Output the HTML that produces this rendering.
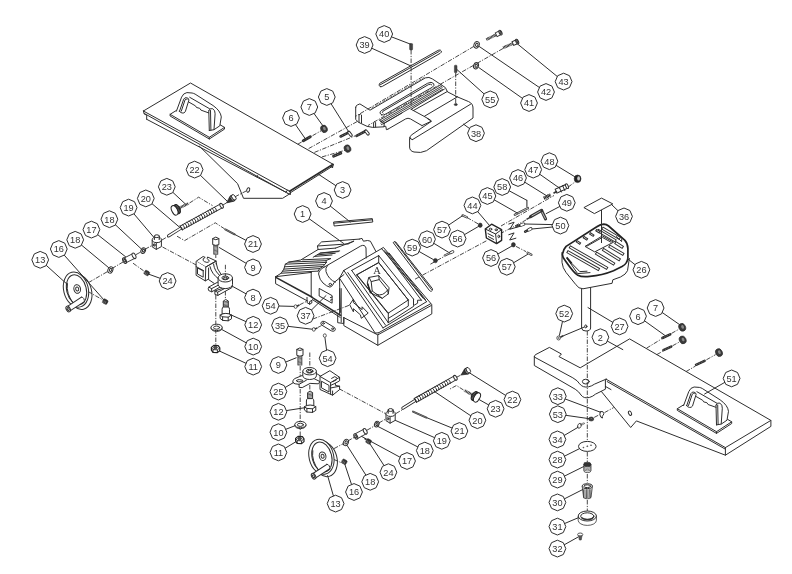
<!DOCTYPE html>
<html><head><meta charset="utf-8"><title>Exploded parts diagram</title>
<style>
html,body{margin:0;padding:0;background:#fff;}
body{width:792px;height:574px;overflow:hidden;font-family:"Liberation Sans",sans-serif;}
svg{display:block;filter:grayscale(1) blur(0.5px);}
.l{fill:none;stroke:#2e2e2e;stroke-width:1;stroke-linecap:round;stroke-linejoin:round;}
.w{fill:#fff;stroke:#2e2e2e;stroke-width:1;stroke-linejoin:round;}
.k{fill:#333;stroke:#333;stroke-width:0.6;stroke-linejoin:round;}
.b{fill:none;stroke:#2a2a2a;stroke-width:1.6;stroke-linecap:round;}
.d{fill:none;stroke:#333;stroke-width:0.9;stroke-dasharray:4.5 1.4 1.2 1.4;}
.o{fill:#fff;stroke:#2e2e2e;stroke-width:1;}
.t{font-family:"Liberation Sans",sans-serif;font-size:9.2px;fill:#333;text-anchor:middle;}
.a{font-family:"Liberation Serif",serif;font-size:10.5px;fill:#333;text-anchor:middle;}
</style></head><body>
<svg width="792" height="574" viewBox="0 0 792 574">
<rect x="0" y="0" width="792" height="574" fill="#fff"/>
<path class="l" d="M143.4,111.0 L190.5,83.0 L333.1,164.3"/>
<line class="l" x1="143.4" y1="111.0" x2="289.6" y2="191.3"/>
<line class="b" x1="289.6" y1="191.3" x2="333.1" y2="164.3"/>
<line class="l" x1="290.1" y1="192.9" x2="333.1" y2="165.9"/>
<path class="l" d="M143.4,111.0 L144.2,114.0 L146.7,115.2 L146.7,119.3"/>
<line class="l" x1="144.5" y1="113.6" x2="287.5" y2="193.2"/>
<path class="l" d="M146.7,119.3 L256.6,177.0 L257.5,175.6"/>
<path class="l" d="M256.6,177.0 L286.0,192.2 L287.5,190.0"/>
<path class="l" d="M287.5,193.2 L290.5,194.5 L290.2,191.5"/>
<path class="l" d="M331.0,166.0 L332.5,168.0 L333.1,164.5"/>
<path class="l" d="M199.2,146.0 L237.6,183.7 L243.5,198.3 L282.6,198.3 L289.8,193.8"/>
<ellipse class="l" cx="248.2" cy="190.0" rx="1.4" ry="2.3" transform="rotate(20 248.2 190.0)"/>
<g transform="translate(170.1,114.3)">
<path d="M15.6,-9.6 L0,0 L0,1.7 L39.2,24.7 L54.4,14.8 L54.4,13.1 Z" fill="#fff" stroke="none"/>
<path class="l" d="M6.2,-3.8 L0,0 L0,1.7 L39.2,24.7 L54.4,14.8 L54.4,13.1 L50.2,10.6 M0,0 L39.2,23 L54.4,13.1 M39.2,23 L39.2,24.7"/>
<path d="M6.3,-3.1 L11.5,-17.2 Q13.2,-21.2 16.8,-21.7 L22,-21.3 Q23.6,-21 25,-20.2 L42.9,-8.8 Q50.4,-3.6 51.2,2.6 L49.7,11.5 L43.9,15.4 L39.2,16.2 L38.8,-1.6 L18.8,-12.4 L15.2,-2.4 Q13.6,-0.4 11.4,-1.2 Z" fill="#fff" stroke="none"/>
<path class="l" d="M6.3,-3.1 L11.5,-17.2 Q13.2,-21.2 16.8,-21.7 L22,-21.3 Q23.6,-21 25,-20.2 L42.9,-8.8 Q50.4,-3.6 51.2,2.6 L49.7,11.5 L43.9,15.4 L39.2,16.2"/>
<path class="l" d="M9.4,-3.1 L13.6,-15.1 Q14.6,-17 16.6,-16.6 Q18.8,-16.2 18.8,-14.2 L15.2,-2.6 Q14,-0.8 12,-1.3 Q9.6,-1.8 9.4,-3.1 Z"/>
<path class="l" d="M11.2,-3.2 L15,-14.6 Q15.8,-15.6 17,-15.2"/>
<path class="l" d="M19.6,-17 L39.4,-5.6"/>
<path class="l" d="M18.8,-12.2 L25.4,-8.4 L26.4,-6.8 L29.6,-6 L30.8,-4.2 L38.6,-1.4"/>
<path class="l" d="M38.7,-3.6 Q39.6,-6.6 42.6,-5.6 Q45.2,-4 45,-0.5 L43.9,15.2"/>
<path class="l" d="M38.7,-3.6 L39.2,16.2 M40.4,-3.8 L40.8,15.8"/>
</g>
<ellipse cx="324.0" cy="128.9" rx="3.2" ry="3.8" transform="rotate(-25 324.0 128.9)" fill="#3a3a3a" stroke="#222" stroke-width="0.6"/>
<ellipse cx="324.5" cy="128.7" rx="1.3" ry="1.9" transform="rotate(-25 324.0 128.9)" fill="#8a8a8a" stroke="none"/>
<line x1="303.3" y1="140.8" x2="310.3" y2="136.8" stroke="#2a2a2a" stroke-width="2.9" stroke-linecap="round"/>
<line x1="303.3" y1="140.8" x2="310.3" y2="136.8" stroke="#aaa" stroke-width="0.7" stroke-dasharray="0.8 1.0"/>
<line x1="340.6" y1="136.5" x2="348.8" y2="132.3" stroke="#2a2a2a" stroke-width="2.6" stroke-linecap="round"/>
<line x1="340.6" y1="136.5" x2="348.8" y2="132.3" stroke="#aaa" stroke-width="0.7" stroke-dasharray="0.8 1.0"/>
<path d="M348.8,132.3 l2.3,2.9" fill="none" stroke="#2a2a2a" stroke-width="3.3" stroke-linecap="round"/>
<path d="M349.0,132.6 l2.0,2.5" fill="none" stroke="#fff" stroke-width="1.5" stroke-linecap="round"/>
<line x1="356.5" y1="135.9" x2="365.8" y2="131.0" stroke="#2a2a2a" stroke-width="2.6" stroke-linecap="round"/>
<line x1="356.5" y1="135.9" x2="365.8" y2="131.0" stroke="#aaa" stroke-width="0.7" stroke-dasharray="0.8 1.0"/>
<path d="M365.8,131.0 l2.3,2.9" fill="none" stroke="#2a2a2a" stroke-width="3.3" stroke-linecap="round"/>
<path d="M366.0,131.3 l2.0,2.5" fill="none" stroke="#fff" stroke-width="1.5" stroke-linecap="round"/>
<ellipse cx="347.5" cy="148.6" rx="3.2" ry="3.8" transform="rotate(-25 347.5 148.6)" fill="#3a3a3a" stroke="#222" stroke-width="0.6"/>
<ellipse cx="348.0" cy="148.4" rx="1.3" ry="1.9" transform="rotate(-25 347.5 148.6)" fill="#8a8a8a" stroke="none"/>
<line x1="333.6" y1="156.2" x2="340.8" y2="153.2" stroke="#2a2a2a" stroke-width="2.9" stroke-linecap="round"/>
<line x1="333.6" y1="156.2" x2="340.8" y2="153.2" stroke="#aaa" stroke-width="0.7" stroke-dasharray="0.8 1.0"/>
<line class="d" x1="297.8" y1="144.2" x2="321.0" y2="130.8"/>
<line class="d" x1="308.6" y1="148.6" x2="357.6" y2="121.3"/>
<line class="d" x1="314.4" y1="152.4" x2="355.0" y2="135.9"/>
<line class="d" x1="322.0" y1="156.9" x2="345.0" y2="150.3"/>
<path class="l" d="M355.7,107.4 Q355.7,105.6 357.3,105 L359.9,103.9 L370,110.2 L425.3,77.9 Q429,76.4 432.5,79 L445.4,87.6 L447.4,91.8 L457.4,96.9 L468.6,101.6 Q473,103.5 473,108 L473,118 L426.5,150.7 Q421,153.5 414,152 Q409.6,151 409.6,147 L409.6,139"/>
<path class="l" d="M355.7,107.4 L355.7,119.4 L358.5,122.3 L367,126.3 L372.7,127.4 L384.1,126.8 L384.1,123.4"/>
<path class="l" d="M359,122.6 L359,115 Q360.2,112.8 361.5,115 L361.5,122.8"/>
<path class="l" d="M373.6,127.2 L373.6,122.5 Q374.6,120.9 375.6,122.5 L375.6,127"/>
<path class="l" d="M384.1,126.3 L385.8,126.3 L386.4,129.7 L388,129.1"/>
<path class="l" d="M388,129.1 L405.7,118.9 Q408,117.6 410.4,118.9 L422,125.6"/>
<path class="l" d="M384.1,123.4 L402,113"/>
<path class="l" d="M422,125.6 L431.3,121.2 L427.5,118.6"/>
<path class="l" d="M409.6,139 Q409.4,136 412,134.6 L431.3,121.4"/>
<path class="l" d="M412.5,139.6 L470.6,104.2"/>
<path class="l" d="M409.8,137.5 Q410.5,139.8 412.5,139.6"/>
<path class="l" d="M457.6,96.7 L424.2,116.4 L430.3,120"/>
<path class="l" d="M411.1,109.3 L424.2,116.4"/>
<ellipse class="k" cx="455.8" cy="104.6" rx="1.6" ry="1.0"/>
<path class="l" d="M411.1,109.3 L444.4,89.1"/>
<path class="l" d="M413.3,110.6 L447.5,91.4"/>
<line x1="379.6" y1="120.2" x2="441.6" y2="84.4" stroke="#2e2e2e" stroke-width="0.9"/>
<line x1="380.1" y1="121.8" x2="442.1" y2="86.0" stroke="#2e2e2e" stroke-width="0.9"/>
<line x1="380.5" y1="123.3" x2="442.5" y2="87.5" stroke="#2e2e2e" stroke-width="0.9"/>
<line x1="381.0" y1="124.9" x2="443.0" y2="89.1" stroke="#2e2e2e" stroke-width="0.9"/>
<path class="l" d="M379.5,120.2 L384.1,123.4"/>
<path class="l" d="M381.5,114.8 Q378.5,113 381.3,110.6 L427.5,83.3 Q431.5,81.2 433.6,83.5 Q435,85.3 432.4,87.2 L386,113.9 Q383.5,115.6 381.5,114.8 Z"/>
<path class="l" d="M383,113.2 Q381.4,112.3 383,111.2 L428.3,84.7 Q430.8,83.6 431.8,84.8"/>
<line x1="371.5" y1="108.2" x2="424.5" y2="77.2" stroke="#555" stroke-width="0.8" stroke-dasharray="3 1.2"/>
<path class="l" d="M380.2,86.6 Q378,85.3 379.6,83.4 L438.2,50.3 Q440.6,49.3 441.3,51 Q441.8,52.3 440.2,53.3 L382.3,86.4 Q381,87.2 380.2,86.6 Z"/>
<path class="l" d="M380.4,84.7 L439.4,51.3"/>
<rect x="409.6" y="43.5" width="3.0" height="6.5" rx="0.8" fill="#444" stroke="#333" stroke-width="0.5"/>
<line class="d" x1="411.1" y1="50.0" x2="411.1" y2="105.0"/>
<ellipse class="w" cx="476.6" cy="44.8" rx="2.6" ry="3.4" transform="rotate(20 476.6 44.8)"/>
<ellipse class="l" cx="476.8" cy="44.8" rx="1.2" ry="1.7" transform="rotate(20 476.8 44.8)"/>
<line x1="486.3" y1="39.6" x2="495.8" y2="34.9" stroke="#2a2a2a" stroke-width="2.8" stroke-dasharray="0.9 0.45"/>
<line x1="495.8" y1="34.9" x2="500.5" y2="32.6" stroke="#2e2e2e" stroke-width="5.0" stroke-linecap="butt"/>
<line x1="496.6" y1="34.5" x2="500.5" y2="32.6" stroke="#fff" stroke-width="3.1" stroke-linecap="butt"/>
<ellipse class="w" cx="500.5" cy="32.6" rx="1.3" ry="2.5" transform="rotate(-26.241349652157787 500.5 32.6)"/>
<ellipse class="l" cx="500.6" cy="32.6" rx="0.6" ry="1.2" transform="rotate(-26.241349652157787 500.6 32.6)"/>
<line x1="503.1" y1="47.8" x2="512.4" y2="43.7" stroke="#2a2a2a" stroke-width="2.8" stroke-dasharray="0.9 0.45"/>
<line x1="512.4" y1="43.7" x2="517.2" y2="41.6" stroke="#2e2e2e" stroke-width="5.0" stroke-linecap="butt"/>
<line x1="513.3" y1="43.3" x2="517.2" y2="41.6" stroke="#fff" stroke-width="3.1" stroke-linecap="butt"/>
<ellipse class="w" cx="517.2" cy="41.6" rx="1.3" ry="2.5" transform="rotate(-23.735875339447652 517.2 41.6)"/>
<ellipse class="l" cx="517.3" cy="41.6" rx="0.6" ry="1.2" transform="rotate(-23.735875339447652 517.3 41.6)"/>
<ellipse class="w" cx="476.0" cy="65.8" rx="2.4" ry="3.2" transform="rotate(20 476.0 65.8)"/>
<ellipse class="l" cx="476.2" cy="65.8" rx="1.1" ry="1.6" transform="rotate(20 476.2 65.8)"/>
<rect x="454.4" y="65.2" width="2.6" height="7.5" rx="0.8" fill="#444" stroke="#333" stroke-width="0.5"/>
<line class="d" x1="455.7" y1="73.0" x2="455.7" y2="103.0"/>
<line class="d" x1="473.8" y1="46.4" x2="355.3" y2="116.5"/>
<line class="d" x1="503.0" y1="48.5" x2="368.0" y2="125.5"/>
<ellipse class="w" cx="79.3" cy="291.9" rx="12.3" ry="17.8" transform="rotate(-14 79.3 291.9)"/>
<ellipse class="w" cx="76.0" cy="289.6" rx="12.3" ry="17.8" transform="rotate(-14 76.0 289.6)"/>
<ellipse class="l" cx="76.5" cy="289.8" rx="9.8" ry="15.2" transform="rotate(-14 76.5 289.8)"/>
<path class="l" d="M67.4,283.6 Q65.6,293.6 74.0,304.2"/>
<ellipse class="l" cx="77.2" cy="289.0" rx="3.3" ry="4.3" transform="rotate(-14 77.2 289.0)"/>
<ellipse class="l" cx="77.2" cy="289.0" rx="1.5" ry="2.0" transform="rotate(-14 77.2 289.0)"/>
<line x1="83.2" y1="299.2" x2="68.2" y2="309.0" stroke="#2a2a2a" stroke-width="6.2" stroke-linecap="butt"/>
<line x1="84.1" y1="298.6" x2="68.2" y2="309.0" stroke="#fff" stroke-width="4.3" stroke-linecap="butt"/>
<path class="l" d="M81.6,297.0 Q84.8,297.6 84.4,301.8"/>
<ellipse class="w" cx="68.2" cy="309.0" rx="1.9" ry="3.1" transform="rotate(-30 68.2 309.0)"/>
<ellipse class="l" cx="68.2" cy="309.0" rx="0.9" ry="1.5" transform="rotate(-30 68.2 309.0)"/>
<rect x="102.7" y="299.4" width="5" height="4.4" rx="1.2" transform="rotate(28 105.2 301.6)" fill="#2e2e2e" stroke="#222" stroke-width="0.5"/>
<line x1="103.1" y1="299.8" x2="102.1" y2="302.4" stroke="#aaa" stroke-width="0.5"/>
<line x1="104.5" y1="300.5" x2="103.5" y2="303.1" stroke="#aaa" stroke-width="0.5"/>
<line x1="105.9" y1="301.2" x2="104.9" y2="303.8" stroke="#aaa" stroke-width="0.5"/>
<line class="d" x1="88.5" y1="282.6" x2="108.5" y2="271.0"/>
<line class="d" x1="88.0" y1="291.5" x2="103.0" y2="300.0"/>
<ellipse class="w" cx="110.4" cy="269.9" rx="2.4" ry="3.3" transform="rotate(25 110.4 269.9)"/>
<ellipse class="l" cx="110.6" cy="269.9" rx="1.1" ry="1.6" transform="rotate(25 110.6 269.9)"/>
<line class="d" x1="112.0" y1="268.5" x2="123.0" y2="262.0"/>
<line x1="124.6" y1="260.7" x2="134.0" y2="255.8" stroke="#333" stroke-width="6.0" stroke-linecap="butt"/>
<line x1="124.6" y1="260.7" x2="134.0" y2="255.8" stroke="#fff" stroke-width="4.3" stroke-linecap="butt"/>
<ellipse class="w" cx="134.0" cy="255.8" rx="1.6" ry="3.0" transform="rotate(-27 134.0 255.8)"/>
<ellipse class="w" cx="124.6" cy="260.7" rx="1.6" ry="3.0" transform="rotate(-27 124.6 260.7)"/>
<ellipse class="l" cx="124.6" cy="260.7" rx="0.8" ry="1.5" transform="rotate(-27 124.6 260.7)"/>
<line class="d" x1="133.0" y1="263.2" x2="145.0" y2="271.8"/>
<rect x="144.3" y="270.8" width="5" height="4.4" rx="1.2" transform="rotate(28 146.8 273.0)" fill="#2e2e2e" stroke="#222" stroke-width="0.5"/>
<line x1="144.7" y1="271.2" x2="143.7" y2="273.8" stroke="#aaa" stroke-width="0.5"/>
<line x1="146.1" y1="271.9" x2="145.1" y2="274.5" stroke="#aaa" stroke-width="0.5"/>
<line x1="147.5" y1="272.6" x2="146.5" y2="275.2" stroke="#aaa" stroke-width="0.5"/>
<line class="d" x1="136.0" y1="254.6" x2="141.5" y2="251.6"/>
<ellipse class="w" cx="143.2" cy="250.6" rx="2.2" ry="3.0" transform="rotate(25 143.2 250.6)"/>
<ellipse class="l" cx="143.4" cy="250.6" rx="1.0" ry="1.5" transform="rotate(25 143.4 250.6)"/>
<line class="d" x1="145.0" y1="249.2" x2="152.0" y2="245.5"/>
<path class="w" d="M152.2,239.9 L152.2,246.9 L156.3,249.4 L161.4,246.6 L161.4,239.6"/>
<path class="l" d="M156.3,249.4 L156.3,242.7"/>
<ellipse class="w" cx="156.8" cy="239.8" rx="4.6" ry="2.8"/>
<path class="l" d="M154.4,239.1 L154.4,236.2 M159.2,239.1 L159.2,236.2"/>
<rect x="154.4" y="236.2" width="4.8" height="3" fill="#fff" stroke="none"/>
<path class="l" d="M154.4,239.4 L154.4,236.2 M159.2,239.4 L159.2,236.2"/>
<ellipse class="w" cx="156.8" cy="236.2" rx="2.4" ry="1.4"/>
<ellipse class="l" cx="154.2" cy="245.0" rx="0.9" ry="1.3"/>
<line class="d" x1="162.0" y1="240.0" x2="168.0" y2="236.4"/>
<line x1="168.6" y1="235.8" x2="181.1" y2="228.0" stroke="#2a2a2a" stroke-width="3.2" stroke-linecap="round"/>
<line x1="168.6" y1="235.8" x2="181.1" y2="228.0" stroke="#fff" stroke-width="1.5" stroke-linecap="round"/>
<line x1="181.1" y1="228.0" x2="221.6" y2="205.8" stroke="#2a2a2a" stroke-width="5.3" stroke-linecap="butt"/>
<line x1="181.1" y1="228.0" x2="221.6" y2="205.8" stroke="#fff" stroke-width="3.5" stroke-linecap="butt"/>
<path d="M182.3,230.2 Q182.4,227.3 179.9,225.8" fill="none" stroke="#2a2a2a" stroke-width="1.0"/>
<path d="M184.6,228.9 Q184.7,226.0 182.2,224.6" fill="none" stroke="#2a2a2a" stroke-width="1.0"/>
<path d="M186.9,227.7 Q187.0,224.8 184.5,223.3" fill="none" stroke="#2a2a2a" stroke-width="1.0"/>
<path d="M189.1,226.4 Q189.3,223.5 186.7,222.0" fill="none" stroke="#2a2a2a" stroke-width="1.0"/>
<path d="M191.4,225.2 Q191.5,222.3 189.0,220.8" fill="none" stroke="#2a2a2a" stroke-width="1.0"/>
<path d="M193.7,223.9 Q193.8,221.0 191.3,219.5" fill="none" stroke="#2a2a2a" stroke-width="1.0"/>
<path d="M196.0,222.7 Q196.1,219.8 193.6,218.3" fill="none" stroke="#2a2a2a" stroke-width="1.0"/>
<path d="M198.3,221.4 Q198.4,218.5 195.9,217.0" fill="none" stroke="#2a2a2a" stroke-width="1.0"/>
<path d="M200.5,220.2 Q200.7,217.3 198.1,215.8" fill="none" stroke="#2a2a2a" stroke-width="1.0"/>
<path d="M202.8,218.9 Q202.9,216.0 200.4,214.5" fill="none" stroke="#2a2a2a" stroke-width="1.0"/>
<path d="M205.1,217.7 Q205.2,214.7 202.7,213.3" fill="none" stroke="#2a2a2a" stroke-width="1.0"/>
<path d="M207.4,216.4 Q207.5,213.5 205.0,212.0" fill="none" stroke="#2a2a2a" stroke-width="1.0"/>
<path d="M209.7,215.2 Q209.8,212.2 207.3,210.8" fill="none" stroke="#2a2a2a" stroke-width="1.0"/>
<path d="M211.9,213.9 Q212.1,211.0 209.5,209.5" fill="none" stroke="#2a2a2a" stroke-width="1.0"/>
<path d="M214.2,212.6 Q214.3,209.7 211.8,208.3" fill="none" stroke="#2a2a2a" stroke-width="1.0"/>
<path d="M216.5,211.4 Q216.6,208.5 214.1,207.0" fill="none" stroke="#2a2a2a" stroke-width="1.0"/>
<line x1="182.4" y1="230.3" x2="179.8" y2="225.7" stroke="#2a2a2a" stroke-width="1"/>
<ellipse class="w" cx="221.6" cy="205.8" rx="1.4" ry="2.6" transform="rotate(-30 221.6 205.8)"/>
<polygon points="226.5,202.9 229.7,196.9 233.1,201.4" fill="#333" stroke="#222" stroke-width="0.7"/>
<ellipse cx="232.4" cy="198.4" rx="1.8" ry="3.3" transform="rotate(142.7 232.4 198.4)" fill="#888" stroke="#222" stroke-width="0.9"/>
<ellipse cx="233.8" cy="197.3" rx="1.7" ry="3.1" transform="rotate(142.7 233.8 197.3)" fill="#fff" stroke="#222" stroke-width="0.9"/>
<line class="d" x1="222.5" y1="205.2" x2="226.5" y2="202.9"/>
<line class="d" x1="235.0" y1="196.8" x2="246.5" y2="190.8"/>
<line x1="176.0" y1="209.6" x2="188.6" y2="203.4" stroke="#262626" stroke-width="2.7" stroke-dasharray="0.9 0.5"/>
<line x1="177.8" y1="208.7" x2="179.9" y2="207.7" stroke="#2a2a2a" stroke-width="4.4"/>
<line x1="177.8" y1="208.7" x2="179.4" y2="207.9" stroke="#fff" stroke-width="2.8"/>
<ellipse cx="177.1" cy="209.1" rx="2.6" ry="4.9" transform="rotate(-26.2 177.1 209.1)" fill="#777" stroke="#222" stroke-width="1"/>
<ellipse cx="174.6" cy="210.3" rx="2.8" ry="5.1" transform="rotate(-26.2 174.6 210.3)" fill="#fff" stroke="#222" stroke-width="1"/>
<line x1="174.2" y1="206.0" x2="176.7" y2="204.7" stroke="#222" stroke-width="0.8"/>
<line x1="175.4" y1="206.9" x2="177.9" y2="205.6" stroke="#222" stroke-width="0.8"/>
<line x1="176.3" y1="207.9" x2="178.8" y2="206.7" stroke="#222" stroke-width="0.8"/>
<line x1="177.0" y1="209.1" x2="179.5" y2="207.9" stroke="#222" stroke-width="0.8"/>
<line x1="177.5" y1="210.4" x2="180.0" y2="209.1" stroke="#222" stroke-width="0.8"/>
<line x1="177.8" y1="211.7" x2="180.3" y2="210.5" stroke="#222" stroke-width="0.8"/>
<line x1="177.8" y1="213.2" x2="180.3" y2="212.0" stroke="#222" stroke-width="0.8"/>
<path class="d" d="M189.5,203 L198.6,197.2 L212.5,205.6"/>
<path class="d" d="M177,236.2 L184.6,240.6 L215.3,222.8 L224.8,229"/>
<line x1="225.3" y1="229.4" x2="234.6" y2="234.3" stroke="#333" stroke-width="1.9" stroke-linecap="round"/>
<line x1="225.3" y1="229.4" x2="234.6" y2="234.3" stroke="#bbb" stroke-width="0.5" stroke-linecap="round"/>
<path class="d" d="M162.5,247 L199,266.5"/>
<ellipse class="w" cx="324.7" cy="459.1" rx="12.3" ry="17.8" transform="rotate(-14 324.7 459.1)"/>
<ellipse class="w" cx="321.4" cy="456.8" rx="12.3" ry="17.8" transform="rotate(-14 321.4 456.8)"/>
<ellipse class="l" cx="321.9" cy="457.0" rx="9.8" ry="15.2" transform="rotate(-14 321.9 457.0)"/>
<path class="l" d="M312.8,450.8 Q311.0,460.8 319.4,471.4"/>
<ellipse class="l" cx="322.6" cy="456.2" rx="3.3" ry="4.3" transform="rotate(-14 322.6 456.2)"/>
<ellipse class="l" cx="322.6" cy="456.2" rx="1.5" ry="2.0" transform="rotate(-14 322.6 456.2)"/>
<line x1="328.6" y1="466.4" x2="313.6" y2="476.2" stroke="#2a2a2a" stroke-width="6.2" stroke-linecap="butt"/>
<line x1="329.5" y1="465.8" x2="313.6" y2="476.2" stroke="#fff" stroke-width="4.3" stroke-linecap="butt"/>
<path class="l" d="M327.0,464.2 Q330.2,464.8 329.8,469.0"/>
<ellipse class="w" cx="313.6" cy="476.2" rx="1.9" ry="3.1" transform="rotate(-30 313.6 476.2)"/>
<ellipse class="l" cx="313.6" cy="476.2" rx="0.9" ry="1.5" transform="rotate(-30 313.6 476.2)"/>
<rect x="341.8" y="459.6" width="5" height="4.4" rx="1.2" transform="rotate(28 344.3 461.8)" fill="#2e2e2e" stroke="#222" stroke-width="0.5"/>
<line x1="342.2" y1="460.0" x2="341.2" y2="462.6" stroke="#aaa" stroke-width="0.5"/>
<line x1="343.6" y1="460.7" x2="342.6" y2="463.3" stroke="#aaa" stroke-width="0.5"/>
<line x1="345.0" y1="461.4" x2="344.0" y2="464.0" stroke="#aaa" stroke-width="0.5"/>
<line class="d" x1="334.0" y1="448.6" x2="344.5" y2="443.0"/>
<line class="d" x1="334.0" y1="459.5" x2="342.0" y2="463.0"/>
<ellipse class="w" cx="345.9" cy="442.4" rx="2.4" ry="3.3" transform="rotate(25 345.9 442.4)"/>
<ellipse class="l" cx="346.1" cy="442.4" rx="1.1" ry="1.6" transform="rotate(25 346.1 442.4)"/>
<line class="d" x1="347.8" y1="441.0" x2="354.5" y2="437.2"/>
<line x1="355.8" y1="436.5" x2="365.2" y2="431.3" stroke="#333" stroke-width="6.0" stroke-linecap="butt"/>
<line x1="355.8" y1="436.5" x2="365.2" y2="431.3" stroke="#fff" stroke-width="4.3" stroke-linecap="butt"/>
<ellipse class="w" cx="365.2" cy="431.3" rx="1.6" ry="3.0" transform="rotate(-27 365.2 431.3)"/>
<ellipse class="w" cx="355.8" cy="436.5" rx="1.6" ry="3.0" transform="rotate(-27 355.8 436.5)"/>
<ellipse class="l" cx="355.8" cy="436.5" rx="0.8" ry="1.5" transform="rotate(-27 355.8 436.5)"/>
<line class="d" x1="364.0" y1="438.5" x2="367.0" y2="440.5"/>
<rect x="366.1" y="439.2" width="5" height="4.4" rx="1.2" transform="rotate(28 368.6 441.4)" fill="#2e2e2e" stroke="#222" stroke-width="0.5"/>
<line x1="366.5" y1="439.6" x2="365.5" y2="442.2" stroke="#aaa" stroke-width="0.5"/>
<line x1="367.9" y1="440.3" x2="366.9" y2="442.9" stroke="#aaa" stroke-width="0.5"/>
<line x1="369.3" y1="441.0" x2="368.3" y2="443.6" stroke="#aaa" stroke-width="0.5"/>
<line class="d" x1="367.0" y1="430.2" x2="375.0" y2="425.6"/>
<ellipse class="w" cx="376.8" cy="424.1" rx="2.2" ry="3.0" transform="rotate(25 376.8 424.1)"/>
<ellipse class="l" cx="377.0" cy="424.1" rx="1.0" ry="1.5" transform="rotate(25 377.0 424.1)"/>
<line class="d" x1="378.8" y1="423.0" x2="385.5" y2="419.2"/>
<path class="w" d="M386.0,413.7 L386.0,420.7 L390.1,423.2 L395.2,420.4 L395.2,413.4"/>
<path class="l" d="M390.1,423.2 L390.1,416.5"/>
<ellipse class="w" cx="390.6" cy="413.6" rx="4.6" ry="2.8"/>
<path class="l" d="M388.2,412.9 L388.2,410.0 M393.0,412.9 L393.0,410.0"/>
<rect x="388.2" y="410.0" width="4.8" height="3" fill="#fff" stroke="none"/>
<path class="l" d="M388.2,413.2 L388.2,410.0 M393.0,413.2 L393.0,410.0"/>
<ellipse class="w" cx="390.6" cy="410.0" rx="2.4" ry="1.4"/>
<ellipse class="l" cx="388.0" cy="418.8" rx="0.9" ry="1.3"/>
<line class="d" x1="396.0" y1="413.5" x2="402.2" y2="409.8"/>
<line x1="402.9" y1="408.2" x2="415.3" y2="400.4" stroke="#2a2a2a" stroke-width="3.2" stroke-linecap="round"/>
<line x1="402.9" y1="408.2" x2="415.3" y2="400.4" stroke="#fff" stroke-width="1.5" stroke-linecap="round"/>
<line x1="415.3" y1="400.4" x2="455.4" y2="377.8" stroke="#2a2a2a" stroke-width="5.3" stroke-linecap="butt"/>
<line x1="415.3" y1="400.4" x2="455.4" y2="377.8" stroke="#fff" stroke-width="3.5" stroke-linecap="butt"/>
<path d="M416.5,402.6 Q416.6,399.7 414.1,398.2" fill="none" stroke="#2a2a2a" stroke-width="1.0"/>
<path d="M418.8,401.3 Q418.9,398.4 416.3,397.0" fill="none" stroke="#2a2a2a" stroke-width="1.0"/>
<path d="M421.0,400.1 Q421.1,397.1 418.6,395.7" fill="none" stroke="#2a2a2a" stroke-width="1.0"/>
<path d="M423.3,398.8 Q423.4,395.9 420.9,394.4" fill="none" stroke="#2a2a2a" stroke-width="1.0"/>
<path d="M425.6,397.5 Q425.7,394.6 423.1,393.2" fill="none" stroke="#2a2a2a" stroke-width="1.0"/>
<path d="M427.8,396.3 Q427.9,393.4 425.4,391.9" fill="none" stroke="#2a2a2a" stroke-width="1.0"/>
<path d="M430.1,395.0 Q430.2,392.1 427.6,390.7" fill="none" stroke="#2a2a2a" stroke-width="1.0"/>
<path d="M432.3,393.8 Q432.4,390.8 429.9,389.4" fill="none" stroke="#2a2a2a" stroke-width="1.0"/>
<path d="M434.6,392.5 Q434.7,389.6 432.2,388.1" fill="none" stroke="#2a2a2a" stroke-width="1.0"/>
<path d="M436.9,391.2 Q437.0,388.3 434.4,386.9" fill="none" stroke="#2a2a2a" stroke-width="1.0"/>
<path d="M439.1,390.0 Q439.2,387.1 436.7,385.6" fill="none" stroke="#2a2a2a" stroke-width="1.0"/>
<path d="M441.4,388.7 Q441.5,385.8 438.9,384.4" fill="none" stroke="#2a2a2a" stroke-width="1.0"/>
<path d="M443.6,387.5 Q443.7,384.5 441.2,383.1" fill="none" stroke="#2a2a2a" stroke-width="1.0"/>
<path d="M445.9,386.2 Q446.0,383.3 443.5,381.8" fill="none" stroke="#2a2a2a" stroke-width="1.0"/>
<path d="M448.2,384.9 Q448.3,382.0 445.7,380.6" fill="none" stroke="#2a2a2a" stroke-width="1.0"/>
<path d="M450.4,383.7 Q450.5,380.8 448.0,379.3" fill="none" stroke="#2a2a2a" stroke-width="1.0"/>
<line x1="416.6" y1="402.7" x2="414.0" y2="398.1" stroke="#2a2a2a" stroke-width="1"/>
<ellipse class="w" cx="455.4" cy="377.8" rx="1.4" ry="2.6" transform="rotate(-30 455.4 377.8)"/>
<polygon points="461.0,375.0 464.3,369.5 467.3,374.2" fill="#333" stroke="#222" stroke-width="0.7"/>
<ellipse cx="466.8" cy="371.2" rx="1.8" ry="3.3" transform="rotate(146.8 466.8 371.2)" fill="#888" stroke="#222" stroke-width="0.9"/>
<ellipse cx="468.3" cy="370.2" rx="1.7" ry="3.1" transform="rotate(146.8 468.3 370.2)" fill="#fff" stroke="#222" stroke-width="0.9"/>
<line class="d" x1="456.5" y1="377.3" x2="461.0" y2="375.0"/>
<line x1="475.6" y1="396.6" x2="464.4" y2="390.4" stroke="#262626" stroke-width="2.7" stroke-dasharray="0.9 0.5"/>
<line x1="473.9" y1="395.6" x2="471.8" y2="394.5" stroke="#2a2a2a" stroke-width="4.4"/>
<line x1="473.9" y1="395.6" x2="472.3" y2="394.8" stroke="#fff" stroke-width="2.8"/>
<ellipse cx="474.6" cy="396.0" rx="2.6" ry="4.9" transform="rotate(-151.0 474.6 396.0)" fill="#777" stroke="#222" stroke-width="1"/>
<ellipse cx="477.0" cy="397.4" rx="2.8" ry="5.1" transform="rotate(-151.0 477.0 397.4)" fill="#fff" stroke="#222" stroke-width="1"/>
<line x1="473.7" y1="400.2" x2="471.2" y2="398.8" stroke="#222" stroke-width="0.8"/>
<line x1="473.7" y1="398.6" x2="471.3" y2="397.3" stroke="#222" stroke-width="0.8"/>
<line x1="474.1" y1="397.3" x2="471.6" y2="395.9" stroke="#222" stroke-width="0.8"/>
<line x1="474.6" y1="396.1" x2="472.2" y2="394.7" stroke="#222" stroke-width="0.8"/>
<line x1="475.4" y1="394.9" x2="472.9" y2="393.6" stroke="#222" stroke-width="0.8"/>
<line x1="476.3" y1="393.9" x2="473.9" y2="392.6" stroke="#222" stroke-width="0.8"/>
<line x1="477.6" y1="393.1" x2="475.1" y2="391.7" stroke="#222" stroke-width="0.8"/>
<path class="d" d="M463.5,390 L456.5,385.5 L450,389"/>
<line x1="413.0" y1="411.6" x2="426.4" y2="417.6" stroke="#333" stroke-width="1.9" stroke-linecap="round"/>
<line x1="413.0" y1="411.6" x2="426.4" y2="417.6" stroke="#bbb" stroke-width="0.5" stroke-linecap="round"/>
<path class="d" d="M339.2,388.8 L385.8,413.8"/>
<line class="d" x1="215.8" y1="254.6" x2="215.8" y2="258.0"/>
<path class="w" d="M196.1,261.3 L203.1,256.5 L205.2,257.4 L203.2,258.8 Q202.4,260.6 204.4,261.6 L206.8,262.4 Q208.6,262.4 209.4,261.2 L207.2,258.4 L207.6,257 L216.2,261 L205.8,267 Z"/>
<path class="w" d="M196.1,261.3 L196.1,275.3 L205.3,280.9 L205.8,267"/>
<path class="l" d="M197.5,268.4 L197.5,274 L203.2,277.2 L203.2,271.4 Z"/>
<path class="l" d="M196.1,266.6 L203.6,270.6"/>
<path class="l" d="M205.8,267 L216.2,261 L216.2,264 M205.3,280.9 L208.6,279"/>
<path class="l" d="M210,266.6 Q211.6,274 218.6,278.8 M213.5,263.9 Q214.4,271.6 220.6,276.2 M216.2,263.2 Q216.6,269 221.2,274.6 M208.6,268 L208.6,279.6 L214.2,283.4"/>
<path class="w" d="M219,281.4 L208.9,287 Q207.6,288.6 208.7,290.6 L211.8,291.8 L221.6,286.2"/>
<path class="w" d="M224.6,287.6 L214.9,291 L214.9,294.4 L217.9,295.4 L231.9,287.6 L232.6,284.8"/>
<path class="l" d="M208.9,287.2 L211.6,288.6 L220.6,284 M211.8,291.8 L211.6,288.6 M214.9,291 L217.6,292.2 L217.9,295.4 M217.6,292.2 L226,287.8"/>
<path class="w" d="M218.1,277.9 L218.1,284.5 A7.2,4.1 0 0 0 232.5,284.5 L232.5,277.9 Z"/>
<ellipse class="w" cx="225.3" cy="277.9" rx="7.2" ry="4.1"/>
<ellipse class="l" cx="225.3" cy="277.9" rx="3.4" ry="1.9"/>
<ellipse class="l" cx="225.3" cy="278.2" rx="2.0" ry="1.0"/>
<line class="d" x1="225.4" y1="264.8" x2="225.4" y2="276.0"/>
<line class="d" x1="225.4" y1="291.0" x2="225.4" y2="299.0"/>
<line class="d" x1="215.8" y1="295.0" x2="215.8" y2="352.0"/>
<rect x="213.8" y="244.2" width="4.0" height="10" fill="#fff" stroke="#333" stroke-width="0.8"/>
<line x1="213.8" y1="245.5" x2="217.8" y2="245.0" stroke="#333" stroke-width="0.7"/>
<line x1="213.8" y1="246.8" x2="217.8" y2="246.3" stroke="#333" stroke-width="0.7"/>
<line x1="213.8" y1="248.1" x2="217.8" y2="247.6" stroke="#333" stroke-width="0.7"/>
<line x1="213.8" y1="249.4" x2="217.8" y2="248.9" stroke="#333" stroke-width="0.7"/>
<line x1="213.8" y1="250.7" x2="217.8" y2="250.2" stroke="#333" stroke-width="0.7"/>
<line x1="213.8" y1="252.0" x2="217.8" y2="251.5" stroke="#333" stroke-width="0.7"/>
<line x1="213.8" y1="253.3" x2="217.8" y2="252.8" stroke="#333" stroke-width="0.7"/>
<path class="w" d="M212.7,238.6 Q215.8,235.6 218.9,238.6 L218.9,244.6 Q215.8,246.2 212.7,244.6 Z"/>
<path class="l" d="M212.7,238.8 Q215.8,240.8 218.9,238.8"/>
<path class="w" d="M223.3,307.4 L223.3,301.0 Q225.8,298.0 228.3,301.0 L228.3,307.4 Z"/>
<line x1="223.3" y1="301.8" x2="228.3" y2="301.2" stroke="#333" stroke-width="0.75"/>
<line x1="223.3" y1="303.1" x2="228.3" y2="302.5" stroke="#333" stroke-width="0.75"/>
<line x1="223.3" y1="304.5" x2="228.3" y2="303.9" stroke="#333" stroke-width="0.75"/>
<line x1="223.3" y1="305.8" x2="228.3" y2="305.2" stroke="#333" stroke-width="0.75"/>
<line x1="223.3" y1="307.2" x2="228.3" y2="306.6" stroke="#333" stroke-width="0.75"/>
<path class="w" d="M223.2,307.0 Q222.1,307.6 222.1,309.4 L222.1,314.0 L229.5,314.0 L229.5,309.4 Q229.5,307.6 228.4,307.0 Z"/>
<path class="w" d="M220.1,315.0 Q225.8,311.8 231.5,315.0 L231.5,318.8 L228.2,320.8 L222.6,320.4 L220.1,318.4 Z"/>
<path class="l" d="M220.1,315.0 L222.6,316.8 L228.2,317.2 L231.5,315.0 M222.6,316.8 L222.6,320.4 M228.2,317.2 L228.2,320.8"/>
<ellipse class="w" cx="216.6" cy="328.2" rx="5.6" ry="3.2"/>
<ellipse class="w" cx="216.6" cy="327.4" rx="5.6" ry="3.2"/>
<ellipse class="l" cx="216.6" cy="327.6" rx="3.0" ry="1.6"/>
<path d="M211.4,347.4 L213.8,345.4 L218.2,345.6 L219.8,347.8 L219.8,350.6 L217.4,352.6 L213.0,352.4 L211.4,350.2 Z" fill="#fff" stroke="#222" stroke-width="1.2" stroke-linejoin="round"/>
<path d="M211.4,347.4 L213.0,349.6 L217.4,349.8 L219.8,347.8 M213.0,349.6 L213.0,352.4 M217.4,349.8 L217.4,352.6" fill="none" stroke="#222" stroke-width="0.9"/>
<ellipse cx="215.4" cy="347.6" rx="2.0" ry="1.1" fill="#555" stroke="#222" stroke-width="0.7"/>
<line class="d" x1="309.8" y1="352.5" x2="309.8" y2="369.0"/>
<line class="d" x1="300.2" y1="366.0" x2="300.2" y2="376.0"/>
<path class="w" d="M303.4,375 L294.9,378.5 Q292.2,380.2 292.8,382 Q293.4,383.6 295.2,383.8 L299.1,384.3 L299.1,387.4 L302.2,387.6 L310.1,383.4 L318.4,383.8 L321,380"/>
<path class="l" d="M299.1,384.3 L306.4,380.2 M296.6,380.6 Q297.4,379.4 299.4,379.6 L302.6,380.2 Q303.2,381.2 302,381.8 L298.4,381.8 Q296.4,381.6 296.6,380.6 Z"/>
<path class="l" d="M316.4,373.4 L320.4,376 M313.6,378.4 L320,381.6"/>
<path class="w" d="M320,376.4 L329.9,370.7 L339.6,377.3 L339.6,380.8 L335.4,383.2 L335.4,385.4 L339.6,386.2 L339.6,389.6 L332.6,395.2 L320,389.5 Z"/>
<path class="l" d="M320,376.4 L330.6,382.6 L339.6,377.3 M330.6,382.6 L330.6,394.2 M330.6,385.4 L335.4,383.2 M330.6,388 L339.6,386.2 M332.6,395.2 L332.6,391"/>
<path class="l" d="M321.8,381.4 L329,385.4 L329,392 L321.8,388 Z"/>
<path class="l" d="M331.6,378.4 L334.8,376.6 L337.2,378.2 M333,381.6 L336.4,379.8"/>
<path class="w" d="M302.8,371.2 L302.8,375.8 A6.8,3.7 0 0 0 316.4,375.8 L316.4,371.2 Z"/>
<ellipse class="w" cx="309.6" cy="371.2" rx="6.8" ry="3.7"/>
<ellipse class="l" cx="309.6" cy="371.2" rx="3.4" ry="1.9"/>
<ellipse class="l" cx="309.6" cy="371.5" rx="2.0" ry="1.0"/>
<line class="d" x1="309.8" y1="385.0" x2="309.8" y2="391.0"/>
<line class="d" x1="300.2" y1="389.0" x2="300.2" y2="441.0"/>
<rect x="297.9" y="355.0" width="4.0" height="10" fill="#fff" stroke="#333" stroke-width="0.8"/>
<line x1="297.9" y1="356.3" x2="301.9" y2="355.8" stroke="#333" stroke-width="0.7"/>
<line x1="297.9" y1="357.6" x2="301.9" y2="357.1" stroke="#333" stroke-width="0.7"/>
<line x1="297.9" y1="358.9" x2="301.9" y2="358.4" stroke="#333" stroke-width="0.7"/>
<line x1="297.9" y1="360.2" x2="301.9" y2="359.7" stroke="#333" stroke-width="0.7"/>
<line x1="297.9" y1="361.5" x2="301.9" y2="361.0" stroke="#333" stroke-width="0.7"/>
<line x1="297.9" y1="362.8" x2="301.9" y2="362.3" stroke="#333" stroke-width="0.7"/>
<line x1="297.9" y1="364.1" x2="301.9" y2="363.6" stroke="#333" stroke-width="0.7"/>
<path class="w" d="M296.8,349.4 Q299.9,346.4 303.0,349.4 L303.0,355.4 Q299.9,357.0 296.8,355.4 Z"/>
<path class="l" d="M296.8,349.6 Q299.9,351.6 303.0,349.6"/>
<path class="w" d="M307.6,399.0 L307.6,392.6 Q310.1,389.6 312.6,392.6 L312.6,399.0 Z"/>
<line x1="307.6" y1="393.4" x2="312.6" y2="392.8" stroke="#333" stroke-width="0.75"/>
<line x1="307.6" y1="394.8" x2="312.6" y2="394.1" stroke="#333" stroke-width="0.75"/>
<line x1="307.6" y1="396.1" x2="312.6" y2="395.5" stroke="#333" stroke-width="0.75"/>
<line x1="307.6" y1="397.4" x2="312.6" y2="396.8" stroke="#333" stroke-width="0.75"/>
<line x1="307.6" y1="398.8" x2="312.6" y2="398.2" stroke="#333" stroke-width="0.75"/>
<path class="w" d="M307.5,398.6 Q306.4,399.2 306.4,401.0 L306.4,405.6 L313.8,405.6 L313.8,401.0 Q313.8,399.2 312.7,398.6 Z"/>
<path class="w" d="M304.4,406.6 Q310.1,403.4 315.8,406.6 L315.8,410.4 L312.5,412.4 L306.9,412.0 L304.4,410.0 Z"/>
<path class="l" d="M304.4,406.6 L306.9,408.4 L312.5,408.8 L315.8,406.6 M306.9,408.4 L306.9,412.0 M312.5,408.8 L312.5,412.4"/>
<ellipse class="w" cx="300.4" cy="425.4" rx="5.6" ry="3.2"/>
<ellipse class="w" cx="300.4" cy="424.6" rx="5.6" ry="3.2"/>
<ellipse class="l" cx="300.4" cy="424.8" rx="3.0" ry="1.6"/>
<path d="M295.6,438.4 L298.0,436.4 L302.4,436.6 L304.0,438.8 L304.0,441.6 L301.6,443.6 L297.2,443.4 L295.6,441.2 Z" fill="#fff" stroke="#222" stroke-width="1.2" stroke-linejoin="round"/>
<path d="M295.6,438.4 L297.2,440.6 L301.6,440.8 L304.0,438.8 M297.2,440.6 L297.2,443.4 M301.6,440.8 L301.6,443.6" fill="none" stroke="#222" stroke-width="0.9"/>
<ellipse cx="299.6" cy="438.6" rx="2.0" ry="1.1" fill="#555" stroke="#222" stroke-width="0.7"/>
<line class="d" x1="430.4" y1="264.2" x2="434.0" y2="262.2"/>
<line class="d" x1="437.0" y1="260.4" x2="444.0" y2="256.6"/>
<line class="d" x1="501.0" y1="226.0" x2="554.0" y2="195.5"/>
<line class="d" x1="415.0" y1="279.2" x2="487.0" y2="240.5"/>
<line class="d" x1="500.0" y1="233.8" x2="526.0" y2="220.0"/>
<line class="d" x1="568.0" y1="187.2" x2="575.5" y2="181.6"/>
<path d="M485.3,229 L491.6,224.2 L501.6,229.6 L501.6,240.4 L496.6,243.6 L486.4,238 Z" fill="#fff" stroke="#222" stroke-width="1.4" stroke-linejoin="round"/>
<path class="l" d="M485.3,229 L495.6,234 L501.6,229.6 M495.6,234 L496.6,243.6"/>
<ellipse class="l" cx="490.5" cy="229.2" rx="1.3" ry="1.0"/>
<ellipse class="l" cx="496.2" cy="229.8" rx="1.2" ry="0.9"/>
<path class="l" d="M488,233.6 L493.4,236.4 M488.4,236.6 L493.6,239.4"/>
<ellipse class="l" cx="498.8" cy="236.4" rx="0.9" ry="1.3"/>
<line x1="462.6" y1="215.4" x2="466.8" y2="217.2" stroke="#333" stroke-width="2.3" stroke-linecap="round"/>
<line x1="462.6" y1="215.4" x2="466.8" y2="217.2" stroke="#fff" stroke-width="0.8" stroke-linecap="round"/>
<line class="d" x1="467.0" y1="217.5" x2="478.0" y2="223.8"/>
<ellipse cx="480.2" cy="225.2" rx="2.0" ry="2.2" fill="#333" stroke="#222" stroke-width="0.5"/>
<ellipse cx="435.4" cy="260.6" rx="2.0" ry="2.2" fill="#333" stroke="#222" stroke-width="0.5"/>
<line x1="444.8" y1="255.4" x2="450.6" y2="252.7" stroke="#333" stroke-width="2.2" stroke-linecap="round"/>
<line x1="444.8" y1="255.4" x2="450.6" y2="252.7" stroke="#fff" stroke-width="0.7" stroke-linecap="round"/>
<line x1="450.8" y1="252.6" x2="452.8" y2="251.7" stroke="#333" stroke-width="3.0" stroke-linecap="round"/>
<line x1="450.8" y1="252.6" x2="452.8" y2="251.7" stroke="#fff" stroke-width="1.5" stroke-linecap="round"/>
<ellipse cx="513.4" cy="244.8" rx="2.0" ry="2.2" fill="#333" stroke="#222" stroke-width="0.5"/>
<line class="d" x1="516.0" y1="246.4" x2="526.0" y2="251.6"/>
<line x1="527.6" y1="252.8" x2="531.4" y2="254.8" stroke="#333" stroke-width="2.3" stroke-linecap="round"/>
<line x1="527.6" y1="252.8" x2="531.4" y2="254.8" stroke="#fff" stroke-width="0.8" stroke-linecap="round"/>
<path class="l" d="M508.8,224 L514.1,222.2 L509.7,229.3 L515.9,227.5"/>
<path class="l" d="M508.8,234.7 L514.1,232.9 L509.7,240 L515.9,238.2"/>
<line x1="514.8" y1="214.8" x2="528.0" y2="208.0" stroke="#333" stroke-width="2.2" stroke-linecap="round"/>
<line x1="514.8" y1="214.8" x2="528.0" y2="208.0" stroke="#fff" stroke-width="0.7" stroke-linecap="round"/>
<line x1="526.8" y1="200.4" x2="526.8" y2="206.6" stroke="#333" stroke-width="1.4" stroke-linecap="round"/>
<line x1="526.8" y1="200.4" x2="526.8" y2="206.6" stroke="#fff" stroke-width="0.4" stroke-linecap="round"/>
<line x1="543.8" y1="198.2" x2="550.6" y2="194.8" stroke="#1e1e1e" stroke-width="3.2" stroke-dasharray="1.1 0.35"/>
<line x1="555.6" y1="191.4" x2="567" y2="186.2" stroke="#262626" stroke-width="5.2"/>
<line x1="556.4" y1="191" x2="566.2" y2="186.6" stroke="#fff" stroke-width="3.2"/>
<path class="l" d="M559.2,187 L561.4,192 M562.6,185.6 L564.8,190.6"/>
<ellipse class="w" cx="567.0" cy="186.2" rx="1.2" ry="2.5" transform="rotate(-25 567.0 186.2)"/>
<line x1="553.5" y1="193.2" x2="557" y2="191.3" stroke="#333" stroke-width="1.6"/>
<ellipse cx="577.6" cy="178.8" rx="3.4" ry="3.8" fill="#222" stroke="#222" stroke-width="0.6"/>
<ellipse cx="578.6" cy="178.4" rx="1.4" ry="2.2" fill="#ccc"/>
<line x1="530.6" y1="216.6" x2="541.6" y2="210.4" stroke="#333" stroke-width="3.2" stroke-linecap="round"/>
<line x1="532" y1="215.8" x2="541.2" y2="210.6" stroke="#bbb" stroke-width="1.0" stroke-linecap="round"/>
<line x1="541.8" y1="211" x2="545.6" y2="219" stroke="#333" stroke-width="3.0" stroke-linecap="round"/>
<line x1="542.2" y1="212.4" x2="545.4" y2="218.6" stroke="#ccc" stroke-width="0.9" stroke-linecap="round"/>
<line x1="526.5" y1="219.4" x2="531" y2="216.8" stroke="#333" stroke-width="1.4"/>
<line x1="516.6" y1="226.6" x2="521.0" y2="225.0" stroke="#2a2a2a" stroke-width="2.6" stroke-linecap="round"/>
<line x1="516.6" y1="226.6" x2="521.0" y2="225.0" stroke="#aaa" stroke-width="0.7" stroke-dasharray="0.8 1.0"/>
<line x1="521.2" y1="225.0" x2="523.6" y2="224.2" stroke="#333" stroke-width="3.4" stroke-linecap="round"/>
<line x1="521.2" y1="225.0" x2="523.6" y2="224.2" stroke="#fff" stroke-width="1.9" stroke-linecap="round"/>
<line x1="525.2" y1="231.6" x2="528.6" y2="229.8" stroke="#2a2a2a" stroke-width="2.6" stroke-linecap="round"/>
<line x1="525.2" y1="231.6" x2="528.6" y2="229.8" stroke="#aaa" stroke-width="0.7" stroke-dasharray="0.8 1.0"/>
<line x1="528.8" y1="229.8" x2="530.8" y2="228.8" stroke="#333" stroke-width="3.4" stroke-linecap="round"/>
<line x1="528.8" y1="229.8" x2="530.8" y2="228.8" stroke="#fff" stroke-width="1.9" stroke-linecap="round"/>
<path class="w" d="M393.2,242.6 Q394.2,241 395.8,242 L432.4,288.6 Q433,290.6 431.4,291.2 Q430.2,291.6 429.2,290.2 Z"/>
<path class="l" d="M394.8,241.8 L431.4,289.4"/>
<path class="w" d="M581.6,286 L581.6,328 Q581.8,331 586,331 Q590.4,331 590.6,328 L590.6,284"/>
<ellipse class="l" cx="585.8" cy="326.4" rx="1.1" ry="1.5"/>
<path class="w" d="M562,252 L562,262.4 Q562.6,268 566,272.4 L575.9,284.7 Q578.6,288.8 583,288.8 L612.1,283.3 L612.8,279.8 L620.5,277 Q626,274.4 627.5,270.7 L629.4,258"/>
<path d="M603.8,224.1 Q606.4,224.2 608.6,226 L624.7,240.1 Q627.6,243 627.9,248.4 L627.9,258 Q627.4,263.6 622,266.6 L613.5,270.7 Q602,275.4 589.8,276.3 Q582,277.4 577.3,274.9 Q573.6,272.6 565.5,261 Q561.6,256.6 562.7,253.3 Q563.4,249.4 566.1,246.4 L596.8,226.8 Q600.4,224.2 603.8,224.1 Z" fill="#fff" stroke="#222" stroke-width="1.7" stroke-linejoin="round"/>
<line x1="569.4" y1="246.6" x2="607.6" y2="268.6" stroke="#2a2a2a" stroke-width="3.3" stroke-linecap="butt"/>
<line x1="570.2" y1="247.1" x2="606.8" y2="268.1" stroke="#fff" stroke-width="1.4" stroke-linecap="butt"/>
<line x1="567.0" y1="251.4" x2="599.4" y2="269.8" stroke="#2a2a2a" stroke-width="3.3" stroke-linecap="butt"/>
<line x1="567.8" y1="251.9" x2="598.6" y2="269.3" stroke="#fff" stroke-width="1.4" stroke-linecap="butt"/>
<line x1="595.6" y1="252.8" x2="614.6" y2="264.4" stroke="#2a2a2a" stroke-width="3.3" stroke-linecap="butt"/>
<line x1="596.4" y1="253.3" x2="613.8" y2="263.9" stroke="#fff" stroke-width="1.4" stroke-linecap="butt"/>
<line x1="602.6" y1="249.2" x2="620.2" y2="260.2" stroke="#2a2a2a" stroke-width="3.3" stroke-linecap="butt"/>
<line x1="603.4" y1="249.7" x2="619.4" y2="259.7" stroke="#fff" stroke-width="1.4" stroke-linecap="butt"/>
<line x1="608.9" y1="245.8" x2="623.8" y2="254.6" stroke="#2a2a2a" stroke-width="3.3" stroke-linecap="butt"/>
<line x1="609.7" y1="246.3" x2="623.0" y2="254.1" stroke="#fff" stroke-width="1.4" stroke-linecap="butt"/>
<line x1="615.0" y1="242.4" x2="623.2" y2="247.6" stroke="#2a2a2a" stroke-width="3.3" stroke-linecap="butt"/>
<line x1="615.8" y1="242.9" x2="622.4" y2="247.1" stroke="#fff" stroke-width="1.4" stroke-linecap="butt"/>
<line x1="602.0" y1="227.8" x2="620.2" y2="238.6" stroke="#2a2a2a" stroke-width="3.3" stroke-linecap="butt"/>
<line x1="602.8" y1="228.3" x2="619.4" y2="238.1" stroke="#fff" stroke-width="1.4" stroke-linecap="butt"/>
<line x1="597.4" y1="230.2" x2="616.0" y2="241.2" stroke="#2a2a2a" stroke-width="3.3" stroke-linecap="butt"/>
<line x1="598.2" y1="230.7" x2="615.2" y2="240.7" stroke="#fff" stroke-width="1.4" stroke-linecap="butt"/>
<line x1="576.2" y1="241.0" x2="580.6" y2="243.8" stroke="#2a2a2a" stroke-width="2.6" stroke-linecap="butt"/>
<line x1="577.0" y1="241.5" x2="579.8" y2="243.3" stroke="#fff" stroke-width="0.7" stroke-linecap="butt"/>
<line x1="583.2" y1="236.8" x2="587.6" y2="239.6" stroke="#2a2a2a" stroke-width="2.6" stroke-linecap="butt"/>
<line x1="584.0" y1="237.3" x2="586.8" y2="239.1" stroke="#fff" stroke-width="0.7" stroke-linecap="butt"/>
<line x1="589.6" y1="233.2" x2="594.0" y2="236.0" stroke="#2a2a2a" stroke-width="2.6" stroke-linecap="butt"/>
<line x1="590.4" y1="233.7" x2="593.2" y2="235.5" stroke="#fff" stroke-width="0.7" stroke-linecap="butt"/>
<line x1="595.8" y1="229.8" x2="600.2" y2="232.6" stroke="#2a2a2a" stroke-width="2.6" stroke-linecap="butt"/>
<line x1="596.6" y1="230.3" x2="599.4" y2="232.1" stroke="#fff" stroke-width="0.7" stroke-linecap="butt"/>
<path class="l" d="M567.4,258.8 L577.6,273.6 L590,272.6 M570.4,262 L579.8,271.6 L587,271.2"/>
<path d="M566.6,257.4 L571.6,263.4" stroke="#222" stroke-width="1.8" fill="none"/>
<path class="l" d="M616.4,236.6 L621.6,241.6 L621.8,238.6"/>
<path class="w" d="M585,246.4 L602.4,235.9 L613.5,242.2 L594.7,251.9 Z"/>
<path class="l" d="M586.8,246.2 L602.4,237.4 L611,242.2"/>
<line class="l" x1="601.5" y1="210.4" x2="601.5" y2="242.6"/>
<path class="w" d="M583.9,207.6 L601.5,198.1 L612.8,203.9 L594.4,213.6 Z"/>
<path class="l" d="M534.3,356.6 Q534.3,355.2 536,354.4 L549.4,347.4 L561.4,354 L559,356.6 L580.2,367.8 L629.6,338.9 L770.9,420.4 L725.4,447.6"/>
<path class="l" d="M534.3,356.6 L534.3,365.5 L575.2,389.2 Q579,391.6 581,395 Q584,399 589.6,397.4 Q593,396.4 595.4,394.2 L605.4,389.2 L605.4,380.4"/>
<path class="l" d="M534.6,357.2 L572.8,377.8 Q578,380.8 579.6,383.8 Q582.8,388 588.6,386.8 Q592,386 594.4,384.2 L606.4,379"/>
<ellipse class="l" cx="585.8" cy="381.6" rx="3.4" ry="2.4"/>
<line class="l" x1="606.1" y1="379.2" x2="725.4" y2="447.6"/>
<line class="l" x1="607.2" y1="381.6" x2="725.4" y2="449.2"/>
<path class="l" d="M770.9,420.4 L770.9,426.4 L725.4,455.2 L725.4,447.6"/>
<path class="l" d="M601.4,391.5 L630.7,427.5 L636.4,420.9 L725.4,455.2"/>
<path class="l" d="M605.4,386.4 L611,389.6"/>
<ellipse class="l" cx="630.0" cy="413.2" rx="1.4" ry="2.3" transform="rotate(-25 630.0 413.2)"/>
<g transform="translate(677.3,408.7)">
<path d="M15.6,-9.6 L0,0 L0,1.7 L39.2,24.7 L54.4,14.8 L54.4,13.1 Z" fill="#fff" stroke="none"/>
<path class="l" d="M6.2,-3.8 L0,0 L0,1.7 L39.2,24.7 L54.4,14.8 L54.4,13.1 L50.2,10.6 M0,0 L39.2,23 L54.4,13.1 M39.2,23 L39.2,24.7"/>
<path d="M6.3,-3.1 L11.5,-17.2 Q13.2,-21.2 16.8,-21.7 L22,-21.3 Q23.6,-21 25,-20.2 L42.9,-8.8 Q50.4,-3.6 51.2,2.6 L49.7,11.5 L43.9,15.4 L39.2,16.2 L38.8,-1.6 L18.8,-12.4 L15.2,-2.4 Q13.6,-0.4 11.4,-1.2 Z" fill="#fff" stroke="none"/>
<path class="l" d="M6.3,-3.1 L11.5,-17.2 Q13.2,-21.2 16.8,-21.7 L22,-21.3 Q23.6,-21 25,-20.2 L42.9,-8.8 Q50.4,-3.6 51.2,2.6 L49.7,11.5 L43.9,15.4 L39.2,16.2"/>
<path class="l" d="M9.4,-3.1 L13.6,-15.1 Q14.6,-17 16.6,-16.6 Q18.8,-16.2 18.8,-14.2 L15.2,-2.6 Q14,-0.8 12,-1.3 Q9.6,-1.8 9.4,-3.1 Z"/>
<path class="l" d="M11.2,-3.2 L15,-14.6 Q15.8,-15.6 17,-15.2"/>
<path class="l" d="M19.6,-17 L39.4,-5.6"/>
<path class="l" d="M18.8,-12.2 L25.4,-8.4 L26.4,-6.8 L29.6,-6 L30.8,-4.2 L38.6,-1.4"/>
<path class="l" d="M38.7,-3.6 Q39.6,-6.6 42.6,-5.6 Q45.2,-4 45,-0.5 L43.9,15.2"/>
<path class="l" d="M38.7,-3.6 L39.2,16.2 M40.4,-3.8 L40.8,15.8"/>
</g>
<ellipse cx="682.2" cy="327.3" rx="3.3" ry="4.0" transform="rotate(-25 682.2 327.3)" fill="#3a3a3a" stroke="#222" stroke-width="0.6"/>
<ellipse cx="682.7" cy="327.1" rx="1.3" ry="1.9" transform="rotate(-25 682.2 327.3)" fill="#8a8a8a" stroke="none"/>
<ellipse cx="682.7" cy="339.9" rx="3.3" ry="4.0" transform="rotate(-25 682.7 339.9)" fill="#3a3a3a" stroke="#222" stroke-width="0.6"/>
<ellipse cx="683.2" cy="339.7" rx="1.3" ry="1.9" transform="rotate(-25 682.7 339.9)" fill="#8a8a8a" stroke="none"/>
<ellipse cx="719.0" cy="352.6" rx="3.3" ry="4.0" transform="rotate(-25 719.0 352.6)" fill="#3a3a3a" stroke="#222" stroke-width="0.6"/>
<ellipse cx="719.5" cy="352.4" rx="1.3" ry="1.9" transform="rotate(-25 719.0 352.6)" fill="#8a8a8a" stroke="none"/>
<line x1="662.4" y1="338.0" x2="670.2" y2="334.4" stroke="#2a2a2a" stroke-width="2.5" stroke-linecap="round"/>
<line x1="662.4" y1="338.0" x2="670.2" y2="334.4" stroke="#aaa" stroke-width="0.7" stroke-dasharray="0.8 1.0"/>
<line x1="663.4" y1="350.2" x2="671.2" y2="346.6" stroke="#2a2a2a" stroke-width="2.5" stroke-linecap="round"/>
<line x1="663.4" y1="350.2" x2="671.2" y2="346.6" stroke="#aaa" stroke-width="0.7" stroke-dasharray="0.8 1.0"/>
<line x1="696.0" y1="364.8" x2="704.6" y2="360.8" stroke="#2a2a2a" stroke-width="2.5" stroke-linecap="round"/>
<line x1="696.0" y1="364.8" x2="704.6" y2="360.8" stroke="#aaa" stroke-width="0.7" stroke-dasharray="0.8 1.0"/>
<line class="d" x1="671.5" y1="333.4" x2="679.0" y2="329.2"/>
<line class="d" x1="672.5" y1="345.8" x2="679.4" y2="342.0"/>
<line class="d" x1="706.4" y1="359.8" x2="715.6" y2="354.6"/>
<line class="d" x1="646.5" y1="348.2" x2="661.5" y2="339.0"/>
<line class="d" x1="656.8" y1="354.6" x2="662.6" y2="351.4"/>
<line class="d" x1="686.0" y1="371.6" x2="695.6" y2="366.0"/>
<line class="d" x1="587.3" y1="331.0" x2="587.3" y2="440.0"/>
<line class="d" x1="587.3" y1="452.0" x2="587.3" y2="462.0"/>
<line class="d" x1="587.3" y1="474.0" x2="587.3" y2="483.0"/>
<line class="d" x1="587.3" y1="500.0" x2="587.3" y2="511.0"/>
<ellipse class="w" cx="587.3" cy="446.4" rx="8.8" ry="5.0"/>
<ellipse class="k" cx="587.3" cy="446.2" rx="0.6" ry="0.4"/>
<ellipse class="k" cx="583.4" cy="447.6" rx="0.5" ry="0.4"/>
<ellipse class="k" cx="591.0" cy="445.2" rx="0.5" ry="0.4"/>
<path d="M583.8,464.4 L583.8,470.6 A3.6,2 0 0 0 591,470.6 L591,464.4 Z" fill="#fff" stroke="#333" stroke-width="0.8"/>
<ellipse cx="587.4" cy="464.4" rx="3.6" ry="2.2" fill="#333" stroke="#222" stroke-width="0.6"/>
<path d="M584.4,462.4 L584.4,464.4" stroke="#333" stroke-width="0.8"/>
<path d="M583.8,466.2 Q587.4,468.0 591,466.2" fill="none" stroke="#333" stroke-width="0.6"/>
<path d="M583.8,467.5 Q587.4,469.3 591,467.5" fill="none" stroke="#333" stroke-width="0.6"/>
<path d="M583.8,468.8 Q587.4,470.6 591,468.8" fill="none" stroke="#333" stroke-width="0.6"/>
<path d="M583.8,470.1 Q587.4,471.9 591,470.1" fill="none" stroke="#333" stroke-width="0.6"/>
<path d="M582.2,486.4 L583.6,497.4 A3.8,1.8 0 0 0 591,497.4 L592.4,486.4 Z" fill="#fff" stroke="#333" stroke-width="0.8"/>
<ellipse class="w" cx="587.3" cy="486.2" rx="5.1" ry="2.4"/>
<ellipse class="l" cx="587.3" cy="486.2" rx="3.4" ry="1.4"/>
<line x1="583.4" y1="489.2" x2="583.7" y2="498.2" stroke="#333" stroke-width="0.8"/>
<line x1="584.9" y1="489.2" x2="585.1" y2="498.2" stroke="#333" stroke-width="0.8"/>
<line x1="586.4" y1="489.2" x2="586.5" y2="498.2" stroke="#333" stroke-width="0.8"/>
<line x1="587.9" y1="489.2" x2="587.8" y2="498.2" stroke="#333" stroke-width="0.8"/>
<line x1="589.4" y1="489.2" x2="589.2" y2="498.2" stroke="#333" stroke-width="0.8"/>
<line x1="590.9" y1="489.2" x2="590.6" y2="498.2" stroke="#333" stroke-width="0.8"/>
<path d="M578.2,516 L578.2,520.4 A9.1,5 0 0 0 596.4,520.4 L596.4,516 Z" fill="#fff" stroke="#333" stroke-width="0.8"/>
<ellipse class="w" cx="587.3" cy="516.0" rx="9.1" ry="5.0"/>
<ellipse class="l" cx="587.3" cy="516.2" rx="6.6" ry="3.4"/>
<path d="M581.4,517.6 A6.6,3.4 0 0 0 593.6,517.2" fill="none" stroke="#333" stroke-width="1.4"/>
<ellipse cx="580.2" cy="534.6" rx="2.6" ry="1.6" fill="#fff" stroke="#333" stroke-width="0.8"/>
<path d="M578.4,535.6 L579.4,540 L581.2,540 L582,535.6" fill="#555" stroke="#333" stroke-width="0.6"/>
<ellipse cx="579.4" cy="425.8" rx="1.7" ry="2.6" transform="rotate(25 579.4 425.8)" fill="#fff" stroke="#333" stroke-width="0.8"/>
<line x1="580.6" y1="425" x2="584.8" y2="422.8" stroke="#333" stroke-width="1.9" stroke-dasharray="0.7 0.5"/>
<ellipse cx="591.2" cy="419" rx="2.6" ry="2.0" fill="#444" stroke="#222" stroke-width="0.6"/>
<ellipse class="w" cx="591.2" cy="418.6" rx="1.0" ry="0.7"/>
<path class="w" d="M600.2,411.6 Q603.6,410.6 603.8,413.6 Q603.6,415.6 602,416.4 L602.6,418 L601,417.4 Q599.2,415 600.2,411.6 Z"/>
<line class="d" x1="594.2" y1="417.4" x2="599.6" y2="414.6"/>
<line class="d" x1="604.5" y1="412.6" x2="613.6" y2="407.6"/>
<ellipse cx="558.6" cy="338" rx="1.8" ry="2.0" fill="#fff" stroke="#333" stroke-width="0.8"/>
<path d="M557.6,338 L559.6,338 M558.6,337 L558.6,339" stroke="#333" stroke-width="0.5"/>
<line x1="560.4" y1="337.2" x2="563.2" y2="335.8" stroke="#333" stroke-width="1.6"/>
<line class="l" x1="563.4" y1="335.8" x2="584.4" y2="327.0"/>
<path class="l" d="M275.6,276.7 L275.6,283.7 L307.7,301.1"/>
<line class="b" x1="276.3" y1="277.6" x2="311.8" y2="297.0"/>
<line class="b" x1="312.0" y1="297.4" x2="340.6" y2="315.4"/>
<line class="l" x1="312.4" y1="299.6" x2="340.2" y2="317.4"/>
<path class="l" d="M275.6,276.7 L281.2,273.2 L283.9,269.1 L285.3,264.2 L288.8,262.1 L300.7,260 L318.1,249.5 L317.4,246 L321.6,241.9 L359.3,239.1"/>
<line class="l" x1="281.2" y1="273.2" x2="318.1" y2="271.1"/>
<line class="l" x1="282.6" y1="271.2" x2="319.6" y2="268.6"/>
<line class="l" x1="283.9" y1="269.1" x2="323.0" y2="266.5"/>
<line class="l" x1="284.6" y1="266.8" x2="324.6" y2="264.6"/>
<line class="l" x1="285.3" y1="264.2" x2="326.5" y2="262.4"/>
<line class="l" x1="288.8" y1="262.1" x2="325.8" y2="260.7"/>
<path class="l" d="M318.1,271.1 L319.6,268.6 L323,266.5 L324.6,264.6 L326.5,262.4 L325.8,260.7 L330.6,258.6"/>
<line class="l" x1="275.6" y1="276.7" x2="311.4" y2="272.4"/>
<line class="l" x1="318.1" y1="249.5" x2="335.6" y2="248.1"/>
<line class="l" x1="317.4" y1="246.0" x2="348.1" y2="243.9"/>
<path class="l" d="M313.2,257.2 L320.2,253 L339.7,250.9"/>
<line class="l" x1="315.0" y1="256.4" x2="332.0" y2="255.0"/>
<line class="l" x1="317.6" y1="254.8" x2="335.2" y2="253.3"/>
<line class="l" x1="320.2" y1="253.2" x2="338.4" y2="251.6"/>
<line class="l" x1="302.6" y1="259.8" x2="330.6" y2="258.6"/>
<path class="l" d="M348.1,243.9 L353.7,241.2 M359.3,239.1 L362,238.4 L363.4,241.2 L367.6,240.5 L370.4,241.2 L376,251.6"/>
<line class="l" x1="335.6" y1="248.1" x2="353.7" y2="241.2"/>
<line class="l" x1="311.2" y1="272.2" x2="311.2" y2="295.8"/>
<path class="l" d="M324.4,267 L360.7,246 Q364.8,244 366,248 L366.2,258"/>
<path class="l" d="M324.4,267 Q318.6,270 318.6,274 Q319.6,280 323,283 Q326.6,286.4 330,287.2 Q332.6,286.6 334.2,282.4 L343.9,274.6"/>
<path class="l" d="M327.6,265.4 Q325,268 326,271.6 Q328.6,279.6 335.4,282.2"/>
<ellipse class="l" cx="330.3" cy="284.4" rx="1.3" ry="1.1"/>
<path class="l" d="M319.5,288.6 L332.1,295.6 L332.1,303.2 L319.5,296.2 Z"/>
<path class="l" d="M330.4,297.6 L332.1,297 M330.4,300.2 L332.1,299.6"/>
<path class="l" d="M307,297.4 L307,302.6 L309.6,304.2 L311.8,303 L311.8,300.6 M309.6,304.2 L309.6,301.6 L311.8,300.4"/>
<line class="l" x1="341.2" y1="288.6" x2="341.2" y2="322.2"/>
<line class="l" x1="339.6" y1="288.6" x2="339.6" y2="315.0"/>
<path class="l" d="M337.7,314.8 L337.7,322.7 L343.8,323.5 L343.8,317.6"/>
<path class="l" d="M343.8,317.6 L377.8,334.9 L431.8,305.2 L431.8,313.9 L377.8,345.3 L343.8,325.6 L343.8,317.6"/>
<line class="l" x1="377.8" y1="334.9" x2="377.8" y2="345.3"/>
<line class="l" x1="378.6" y1="332.8" x2="430.6" y2="303.8"/>
<line class="l" x1="339.5" y1="278.2" x2="375.2" y2="333.1"/>
<line class="l" x1="343.8" y1="270.4" x2="383.0" y2="327.9"/>
<line class="l" x1="347.8" y1="272.6" x2="385.6" y2="325.2"/>
<line class="l" x1="351.7" y1="270.4" x2="388.3" y2="322.7"/>
<line class="l" x1="356.9" y1="274.7" x2="388.3" y2="313.1"/>
<line class="l" x1="339.5" y1="278.2" x2="343.8" y2="270.4"/>
<line class="l" x1="343.8" y1="270.4" x2="381.6" y2="248.6"/>
<line class="l" x1="351.7" y1="270.4" x2="378.7" y2="255.6"/>
<line class="l" x1="356.9" y1="274.7" x2="378.7" y2="262.6"/>
<line class="l" x1="378.7" y1="255.6" x2="378.7" y2="262.6"/>
<line class="l" x1="378.7" y1="255.6" x2="413.5" y2="299.1"/>
<line class="l" x1="378.7" y1="262.6" x2="408.3" y2="300.0"/>
<line class="l" x1="381.6" y1="248.6" x2="426.6" y2="301.7"/>
<line class="l" x1="384.2" y1="250.6" x2="421.4" y2="300.2"/>
<line class="l" x1="386.5" y1="252.1" x2="423.1" y2="298.3"/>
<line class="l" x1="389.1" y1="253.0" x2="425.4" y2="299.6"/>
<path class="l" d="M381.6,248.6 L383.4,247.4 L431.8,304.6"/>
<path class="l" d="M356.9,274.7 L378.7,262.6 L408.3,300.0 L388.3,313.1 Z"/>
<path class="l" d="M388.3,313.1 L388.3,322.7 M408.3,300 L408.3,306.1 L388.3,318.4 M413.5,299.1 L413.5,305.6 L417.6,303.2 L417.6,300.2 L421.4,300.2"/>
<line class="l" x1="375.2" y1="333.1" x2="378.6" y2="332.8"/>
<line class="l" x1="383.0" y1="327.9" x2="426.6" y2="301.7"/>
<line class="l" x1="388.3" y1="322.7" x2="413.5" y2="306.4"/>
<path class="l" d="M369.1,277.4 L378.7,275.6 L389.1,287.8 L388.3,293.9 L382.2,298.3 L370.8,293.0 L367.4,283.5 Z"/>
<path class="l" d="M378.7,275.6 L379.2,279.6 L387.6,290 L388.3,293.9 M379.2,279.6 L371.2,281.6 L369.1,277.4 M371.2,281.6 L372.2,291 L382.2,298.3 M372.2,291 L370.8,293"/>
<path class="l" d="M376.6,294.4 Q383,296.8 387.6,290"/>
<path d="M367.6,283.6 L370.6,293" stroke="#222" stroke-width="1.5" fill="none"/>
<text class="a" x="377" y="274.3">A</text>
<line class="l" x1="339.5" y1="278.2" x2="340.4" y2="312.4"/>
<path class="l" d="M349.9,304.4 L353.4,299.1 L353.4,302.6 L362.1,309.6 L362.1,306.8 L368.2,313.1 L361.3,318.3 L360.4,314.8 L353.4,308.7 L353.4,311.4 Z"/>
<line class="d" x1="305.0" y1="322.0" x2="350.0" y2="305.0"/>
<path class="w" d="M333.6,222.0 L372.3,218.6 L372.8,222.0 L334.2,226.0 Z"/>
<line class="l" x1="334.0" y1="223.2" x2="372.4" y2="219.8"/>
<ellipse cx="295.6" cy="306.6" rx="1.5" ry="1.8" fill="#fff" stroke="#333" stroke-width="0.8"/>
<line x1="296.8" y1="306.2" x2="299.4" y2="305.0" stroke="#333" stroke-width="1.5"/>
<line class="d" x1="299.6" y1="304.8" x2="306.5" y2="301.4"/>
<path class="w" d="M321.2,322.2 Q322.6,320.6 324.8,321.6 L334.6,327.6 Q336.2,329.4 334.6,330.8 Q333,331.8 331.2,330.8 L321.6,325 Q320.2,323.6 321.2,322.2 Z"/>
<ellipse class="l" cx="323.4" cy="323.4" rx="1.0" ry="0.8"/>
<ellipse class="l" cx="332.6" cy="328.8" rx="1.0" ry="0.8"/>
<ellipse cx="313.8" cy="329.4" rx="1.5" ry="1.8" fill="#fff" stroke="#333" stroke-width="0.8"/>
<line x1="315.0" y1="329.0" x2="317.4" y2="327.8" stroke="#333" stroke-width="1.5"/>
<line class="d" x1="317.6" y1="327.6" x2="322.6" y2="325.0"/>
<ellipse cx="324.8" cy="335.6" rx="1.5" ry="1.8" fill="#fff" stroke="#333" stroke-width="0.8"/>
<line x1="326.0" y1="335.2" x2="326.0" y2="335.2" stroke="#333" stroke-width="1.5"/>
<line class="l" x1="391.6" y1="36.9" x2="410.6" y2="44.2"/>
<polygon class="o" points="384.2,25.6 390.1,28.1 392.6,34.0 390.1,39.9 384.2,42.4 378.3,39.9 375.8,34.0 378.3,28.1"/>
<text class="t" x="384.2" y="37.3">40</text>
<line class="l" x1="371.9" y1="48.3" x2="411.0" y2="66.0"/>
<polygon class="o" points="364.6,36.6 370.5,39.1 373.0,45.0 370.5,50.9 364.6,53.4 358.7,50.9 356.2,45.0 358.7,39.1"/>
<text class="t" x="364.6" y="48.3">39</text>
<line class="l" x1="331.1" y1="103.8" x2="348.6" y2="131.6"/>
<polygon class="o" points="326.8,88.6 332.7,91.1 335.2,97.0 332.7,102.9 326.8,105.4 320.9,102.9 318.4,97.0 320.9,91.1"/>
<text class="t" x="326.8" y="100.3">5</text>
<line class="l" x1="314.0" y1="113.5" x2="323.2" y2="126.2"/>
<polygon class="o" points="309.3,98.6 315.2,101.1 317.7,107.0 315.2,112.9 309.3,115.4 303.4,112.9 300.9,107.0 303.4,101.1"/>
<text class="t" x="309.3" y="110.3">7</text>
<line class="l" x1="295.5" y1="124.6" x2="305.6" y2="139.2"/>
<polygon class="o" points="291.0,109.6 296.9,112.1 299.4,118.0 296.9,123.9 291.0,126.4 285.1,123.9 282.6,118.0 285.1,112.1"/>
<text class="t" x="291.0" y="121.3">6</text>
<line class="l" x1="335.9" y1="185.7" x2="318.6" y2="174.4"/>
<polygon class="o" points="342.6,181.6 348.5,184.1 351.0,190.0 348.5,195.9 342.6,198.4 336.7,195.9 334.2,190.0 336.7,184.1"/>
<text class="t" x="342.6" y="193.3">3</text>
<line class="l" x1="330.2" y1="206.0" x2="350.2" y2="222.0"/>
<polygon class="o" points="324.0,192.6 329.9,195.1 332.4,201.0 329.9,206.9 324.0,209.4 318.1,206.9 315.6,201.0 318.1,195.1"/>
<text class="t" x="324.0" y="204.3">4</text>
<line class="l" x1="309.1" y1="218.7" x2="343.6" y2="243.4"/>
<polygon class="o" points="302.6,205.6 308.5,208.1 311.0,214.0 308.5,219.9 302.6,222.4 296.7,219.9 294.2,214.0 296.7,208.1"/>
<text class="t" x="302.6" y="217.3">1</text>
<line class="l" x1="200.3" y1="175.2" x2="227.4" y2="201.4"/>
<polygon class="o" points="194.6,161.2 200.5,163.7 203.0,169.6 200.5,175.5 194.6,178.0 188.7,175.5 186.2,169.6 188.7,163.7"/>
<text class="t" x="194.6" y="172.9">22</text>
<line class="l" x1="172.7" y1="192.2" x2="185.6" y2="204.2"/>
<polygon class="o" points="166.8,178.4 172.7,180.9 175.2,186.8 172.7,192.7 166.8,195.2 160.9,192.7 158.4,186.8 160.9,180.9"/>
<text class="t" x="166.8" y="190.1">23</text>
<line class="l" x1="151.9" y1="203.6" x2="180.0" y2="227.6"/>
<polygon class="o" points="145.8,190.0 151.7,192.5 154.2,198.4 151.7,204.3 145.8,206.8 139.9,204.3 137.4,198.4 139.9,192.5"/>
<text class="t" x="145.8" y="201.7">20</text>
<line class="l" x1="133.8" y1="213.7" x2="153.4" y2="236.8"/>
<polygon class="o" points="128.6,199.2 134.5,201.7 137.0,207.6 134.5,213.5 128.6,216.0 122.7,213.5 120.2,207.6 122.7,201.7"/>
<text class="t" x="128.6" y="210.9">19</text>
<line class="l" x1="115.2" y1="224.6" x2="141.4" y2="249.0"/>
<polygon class="o" points="109.4,210.8 115.3,213.3 117.8,219.2 115.3,225.1 109.4,227.6 103.5,225.1 101.0,219.2 103.5,213.3"/>
<text class="t" x="109.4" y="222.5">18</text>
<line class="l" x1="97.6" y1="234.6" x2="125.6" y2="256.8"/>
<polygon class="o" points="91.4,221.2 97.3,223.7 99.8,229.6 97.3,235.5 91.4,238.0 85.5,235.5 83.0,229.6 85.5,223.7"/>
<text class="t" x="91.4" y="232.9">17</text>
<line class="l" x1="81.3" y1="244.9" x2="108.6" y2="267.6"/>
<polygon class="o" points="75.2,231.4 81.1,233.9 83.6,239.8 81.1,245.7 75.2,248.2 69.3,245.7 66.8,239.8 69.3,233.9"/>
<text class="t" x="75.2" y="243.1">18</text>
<line class="l" x1="64.1" y1="255.0" x2="104.2" y2="300.2"/>
<polygon class="o" points="58.8,240.6 64.7,243.1 67.2,249.0 64.7,254.9 58.8,257.4 52.9,254.9 50.4,249.0 52.9,243.1"/>
<text class="t" x="58.8" y="252.3">16</text>
<line class="l" x1="46.1" y1="265.2" x2="66.4" y2="283.6"/>
<polygon class="o" points="40.2,251.4 46.1,253.9 48.6,259.8 46.1,265.7 40.2,268.2 34.3,265.7 31.8,259.8 34.3,253.9"/>
<text class="t" x="40.2" y="263.1">13</text>
<line class="l" x1="245.9" y1="240.3" x2="235.0" y2="234.6"/>
<polygon class="o" points="253.0,235.6 258.9,238.1 261.4,244.0 258.9,249.9 253.0,252.4 247.1,249.9 244.6,244.0 247.1,238.1"/>
<text class="t" x="253.0" y="247.3">21</text>
<line class="l" x1="246.1" y1="263.3" x2="219.4" y2="247.6"/>
<polygon class="o" points="253.0,259.0 258.9,261.5 261.4,267.4 258.9,273.3 253.0,275.8 247.1,273.3 244.6,267.4 247.1,261.5"/>
<text class="t" x="253.0" y="270.7">9</text>
<line class="l" x1="160.1" y1="278.3" x2="148.8" y2="274.2"/>
<polygon class="o" points="167.6,272.6 173.5,275.1 176.0,281.0 173.5,286.9 167.6,289.4 161.7,286.9 159.2,281.0 161.7,275.1"/>
<text class="t" x="167.6" y="284.3">24</text>
<line class="l" x1="557.4" y1="76.6" x2="517.8" y2="44.2"/>
<polygon class="o" points="563.6,73.2 569.5,75.7 572.0,81.6 569.5,87.5 563.6,90.0 557.7,87.5 555.2,81.6 557.7,75.7"/>
<text class="t" x="563.6" y="84.9">43</text>
<line class="l" x1="539.4" y1="87.5" x2="479.4" y2="46.6"/>
<polygon class="o" points="546.0,83.6 551.9,86.1 554.4,92.0 551.9,97.9 546.0,100.4 540.1,97.9 537.6,92.0 540.1,86.1"/>
<text class="t" x="546.0" y="95.3">42</text>
<line class="l" x1="522.5" y1="98.4" x2="478.6" y2="67.4"/>
<polygon class="o" points="529.0,94.6 534.9,97.1 537.4,103.0 534.9,108.9 529.0,111.4 523.1,108.9 520.6,103.0 523.1,97.1"/>
<text class="t" x="529.0" y="106.3">41</text>
<line class="l" x1="484.3" y1="94.1" x2="457.0" y2="69.6"/>
<polygon class="o" points="490.2,91.0 496.1,93.5 498.6,99.4 496.1,105.3 490.2,107.8 484.3,105.3 481.8,99.4 484.3,93.5"/>
<text class="t" x="490.2" y="102.7">55</text>
<line class="l" x1="469.5" y1="128.5" x2="463.6" y2="124.2"/>
<polygon class="o" points="476.0,124.8 481.9,127.3 484.4,133.2 481.9,139.1 476.0,141.6 470.1,139.1 467.6,133.2 470.1,127.3"/>
<text class="t" x="476.0" y="136.5">38</text>
<line class="l" x1="556.2" y1="165.4" x2="574.6" y2="176.6"/>
<polygon class="o" points="549.4,152.8 555.3,155.3 557.8,161.2 555.3,167.1 549.4,169.6 543.5,167.1 541.0,161.2 543.5,155.3"/>
<text class="t" x="549.4" y="164.5">48</text>
<line class="l" x1="539.7" y1="174.2" x2="559.6" y2="188.2"/>
<polygon class="o" points="533.2,161.2 539.1,163.7 541.6,169.6 539.1,175.5 533.2,178.0 527.3,175.5 524.8,169.6 527.3,163.7"/>
<text class="t" x="533.2" y="172.9">47</text>
<line class="l" x1="524.8" y1="182.2" x2="546.4" y2="195.6"/>
<polygon class="o" points="518.0,169.6 523.9,172.1 526.4,178.0 523.9,183.9 518.0,186.4 512.1,183.9 509.6,178.0 512.1,172.1"/>
<text class="t" x="518.0" y="181.3">46</text>
<line class="l" x1="509.2" y1="190.8" x2="526.6" y2="200.2"/>
<polygon class="o" points="502.2,178.6 508.1,181.1 510.6,187.0 508.1,192.9 502.2,195.4 496.3,192.9 493.8,187.0 496.3,181.1"/>
<text class="t" x="502.2" y="190.3">58</text>
<line class="l" x1="494.3" y1="199.9" x2="517.6" y2="213.2"/>
<polygon class="o" points="487.4,187.6 493.3,190.1 495.8,196.0 493.3,201.9 487.4,204.4 481.5,201.9 479.0,196.0 481.5,190.1"/>
<text class="t" x="487.4" y="199.3">45</text>
<line class="l" x1="477.6" y1="211.5" x2="489.6" y2="225.6"/>
<polygon class="o" points="472.4,197.0 478.3,199.5 480.8,205.4 478.3,211.3 472.4,213.8 466.5,211.3 464.0,205.4 466.5,199.5"/>
<text class="t" x="472.4" y="208.7">44</text>
<line class="l" x1="559.7" y1="206.5" x2="546.2" y2="213.6"/>
<polygon class="o" points="566.8,194.4 572.7,196.9 575.2,202.8 572.7,208.7 566.8,211.2 560.9,208.7 558.4,202.8 560.9,196.9"/>
<text class="t" x="566.8" y="206.1">49</text>
<polygon class="o" points="560.4,217.2 566.3,219.7 568.8,225.6 566.3,231.5 560.4,234.0 554.5,231.5 552.0,225.6 554.5,219.7"/>
<text class="t" x="560.4" y="228.9">50</text>
<line class="l" x1="618.2" y1="210.9" x2="611.6" y2="204.6"/>
<polygon class="o" points="624.0,208.0 629.9,210.5 632.4,216.4 629.9,222.3 624.0,224.8 618.1,222.3 615.6,216.4 618.1,210.5"/>
<text class="t" x="624.0" y="219.7">36</text>
<line class="l" x1="635.2" y1="264.8" x2="627.4" y2="258.6"/>
<polygon class="o" points="641.4,261.4 647.3,263.9 649.8,269.8 647.3,275.7 641.4,278.2 635.5,275.7 633.0,269.8 635.5,263.9"/>
<text class="t" x="641.4" y="273.1">26</text>
<line class="l" x1="448.6" y1="225.1" x2="462.4" y2="215.8"/>
<polygon class="o" points="442.0,221.2 447.9,223.7 450.4,229.6 447.9,235.5 442.0,238.0 436.1,235.5 433.6,229.6 436.1,223.7"/>
<text class="t" x="442.0" y="232.9">57</text>
<line class="l" x1="464.5" y1="234.6" x2="478.6" y2="226.4"/>
<polygon class="o" points="457.6,230.2 463.5,232.7 466.0,238.6 463.5,244.5 457.6,247.0 451.7,244.5 449.2,238.6 451.7,232.7"/>
<text class="t" x="457.6" y="241.9">56</text>
<line class="l" x1="433.8" y1="243.3" x2="448.4" y2="252.2"/>
<polygon class="o" points="427.0,230.8 432.9,233.3 435.4,239.2 432.9,245.1 427.0,247.6 421.1,245.1 418.6,239.2 421.1,233.3"/>
<text class="t" x="427.0" y="242.5">60</text>
<line class="l" x1="419.1" y1="251.5" x2="433.4" y2="259.6"/>
<polygon class="o" points="412.2,239.2 418.1,241.7 420.6,247.6 418.1,253.5 412.2,256.0 406.3,253.5 403.8,247.6 406.3,241.7"/>
<text class="t" x="412.2" y="250.9">59</text>
<line class="l" x1="497.9" y1="254.0" x2="511.6" y2="246.2"/>
<polygon class="o" points="491.0,249.6 496.9,252.1 499.4,258.0 496.9,263.9 491.0,266.4 485.1,263.9 482.6,258.0 485.1,252.1"/>
<text class="t" x="491.0" y="261.3">56</text>
<line class="l" x1="513.7" y1="262.7" x2="527.6" y2="254.4"/>
<polygon class="o" points="506.8,258.4 512.7,260.9 515.2,266.8 512.7,272.7 506.8,275.2 500.9,272.7 498.4,266.8 500.9,260.9"/>
<text class="t" x="506.8" y="270.1">57</text>
<line class="l" x1="246.0" y1="293.8" x2="232.6" y2="286.4"/>
<polygon class="o" points="253.0,289.2 258.9,291.7 261.4,297.6 258.9,303.5 253.0,306.0 247.1,303.5 244.6,297.6 247.1,291.7"/>
<text class="t" x="253.0" y="300.9">8</text>
<line class="l" x1="245.9" y1="321.6" x2="231.2" y2="315.0"/>
<polygon class="o" points="253.2,316.4 259.1,318.9 261.6,324.8 259.1,330.7 253.2,333.2 247.3,330.7 244.8,324.8 247.3,318.9"/>
<text class="t" x="253.2" y="328.1">12</text>
<line class="l" x1="246.2" y1="342.8" x2="221.6" y2="329.4"/>
<polygon class="o" points="253.2,338.2 259.1,340.7 261.6,346.6 259.1,352.5 253.2,355.0 247.3,352.5 244.8,346.6 247.3,340.7"/>
<text class="t" x="253.2" y="349.9">10</text>
<line class="l" x1="246.0" y1="363.3" x2="219.4" y2="351.0"/>
<polygon class="o" points="253.2,358.2 259.1,360.7 261.6,366.6 259.1,372.5 253.2,375.0 247.3,372.5 244.8,366.6 247.3,360.7"/>
<text class="t" x="253.2" y="369.9">11</text>
<line class="l" x1="278.6" y1="306.0" x2="293.6" y2="306.4"/>
<polygon class="o" points="270.6,297.4 276.5,299.9 279.0,305.8 276.5,311.7 270.6,314.2 264.7,311.7 262.2,305.8 264.7,299.9"/>
<text class="t" x="270.6" y="309.1">54</text>
<line class="l" x1="311.3" y1="310.2" x2="326.0" y2="295.6"/>
<polygon class="o" points="305.6,307.4 311.5,309.9 314.0,315.8 311.5,321.7 305.6,324.2 299.7,321.7 297.2,315.8 299.7,309.9"/>
<text class="t" x="305.6" y="319.1">37</text>
<line class="l" x1="287.9" y1="326.3" x2="312.0" y2="329.2"/>
<polygon class="o" points="280.0,317.0 285.9,319.5 288.4,325.4 285.9,331.3 280.0,333.8 274.1,331.3 271.6,325.4 274.1,319.5"/>
<text class="t" x="280.0" y="328.7">35</text>
<line class="l" x1="326.6" y1="350.3" x2="325.0" y2="338.0"/>
<polygon class="o" points="327.6,349.8 333.5,352.3 336.0,358.2 333.5,364.1 327.6,366.6 321.7,364.1 319.2,358.2 321.7,352.3"/>
<text class="t" x="327.6" y="361.5">54</text>
<line class="l" x1="285.8" y1="362.0" x2="296.2" y2="357.8"/>
<polygon class="o" points="278.4,356.6 284.3,359.1 286.8,365.0 284.3,370.9 278.4,373.4 272.5,370.9 270.0,365.0 272.5,359.1"/>
<text class="t" x="278.4" y="368.3">9</text>
<line class="l" x1="285.2" y1="387.5" x2="293.4" y2="382.6"/>
<polygon class="o" points="278.4,383.2 284.3,385.7 286.8,391.6 284.3,397.5 278.4,400.0 272.5,397.5 270.0,391.6 272.5,385.7"/>
<text class="t" x="278.4" y="394.9">25</text>
<line class="l" x1="286.3" y1="410.6" x2="305.6" y2="407.6"/>
<polygon class="o" points="278.4,403.4 284.3,405.9 286.8,411.8 284.3,417.7 278.4,420.2 272.5,417.7 270.0,411.8 272.5,405.9"/>
<text class="t" x="278.4" y="415.1">12</text>
<line class="l" x1="285.8" y1="429.3" x2="294.8" y2="425.8"/>
<polygon class="o" points="278.4,423.8 284.3,426.3 286.8,432.2 284.3,438.1 278.4,440.6 272.5,438.1 270.0,432.2 272.5,426.3"/>
<text class="t" x="278.4" y="435.5">10</text>
<line class="l" x1="285.2" y1="448.2" x2="295.8" y2="441.8"/>
<polygon class="o" points="278.4,444.0 284.3,446.5 286.8,452.4 284.3,458.3 278.4,460.8 272.5,458.3 270.0,452.4 272.5,446.5"/>
<text class="t" x="278.4" y="455.7">11</text>
<line class="l" x1="333.4" y1="495.9" x2="327.6" y2="475.6"/>
<polygon class="o" points="335.6,495.2 341.5,497.7 344.0,503.6 341.5,509.5 335.6,512.0 329.7,509.5 327.2,503.6 329.7,497.7"/>
<text class="t" x="335.6" y="506.9">13</text>
<line class="l" x1="351.5" y1="484.4" x2="344.8" y2="464.2"/>
<polygon class="o" points="354.0,483.6 359.9,486.1 362.4,492.0 359.9,497.9 354.0,500.4 348.1,497.9 345.6,492.0 348.1,486.1"/>
<text class="t" x="354.0" y="495.3">16</text>
<line class="l" x1="365.9" y1="475.1" x2="347.2" y2="445.6"/>
<polygon class="o" points="370.2,473.4 376.1,475.9 378.6,481.8 376.1,487.7 370.2,490.2 364.3,487.7 361.8,481.8 364.3,475.9"/>
<text class="t" x="370.2" y="485.1">18</text>
<line class="l" x1="384.0" y1="465.5" x2="369.8" y2="443.6"/>
<polygon class="o" points="388.4,463.8 394.3,466.3 396.8,472.2 394.3,478.1 388.4,480.6 382.5,478.1 380.0,472.2 382.5,466.3"/>
<text class="t" x="388.4" y="475.5">24</text>
<line class="l" x1="400.0" y1="457.2" x2="361.6" y2="436.4"/>
<polygon class="o" points="407.0,452.6 412.9,455.1 415.4,461.0 412.9,466.9 407.0,469.4 401.1,466.9 398.6,461.0 401.1,455.1"/>
<text class="t" x="407.0" y="464.3">17</text>
<line class="l" x1="417.7" y1="446.9" x2="378.2" y2="426.6"/>
<polygon class="o" points="424.8,442.2 430.7,444.7 433.2,450.6 430.7,456.5 424.8,459.0 418.9,456.5 416.4,450.6 418.9,444.7"/>
<text class="t" x="424.8" y="453.9">18</text>
<line class="l" x1="434.5" y1="437.6" x2="395.4" y2="420.4"/>
<polygon class="o" points="441.8,432.4 447.7,434.9 450.2,440.8 447.7,446.7 441.8,449.2 435.9,446.7 433.4,440.8 435.9,434.9"/>
<text class="t" x="441.8" y="444.1">19</text>
<line class="l" x1="452.0" y1="428.0" x2="427.0" y2="417.8"/>
<polygon class="o" points="459.4,422.6 465.3,425.1 467.8,431.0 465.3,436.9 459.4,439.4 453.5,436.9 451.0,431.0 453.5,425.1"/>
<text class="t" x="459.4" y="434.3">21</text>
<line class="l" x1="470.8" y1="415.8" x2="434.6" y2="391.6"/>
<polygon class="o" points="477.4,411.8 483.3,414.3 485.8,420.2 483.3,426.1 477.4,428.6 471.5,426.1 469.0,420.2 471.5,414.3"/>
<text class="t" x="477.4" y="423.5">20</text>
<line class="l" x1="488.6" y1="404.9" x2="478.8" y2="399.4"/>
<polygon class="o" points="495.6,400.4 501.5,402.9 504.0,408.8 501.5,414.7 495.6,417.2 489.7,414.7 487.2,408.8 489.7,402.9"/>
<text class="t" x="495.6" y="412.1">23</text>
<line class="l" x1="505.6" y1="395.4" x2="470.0" y2="373.2"/>
<polygon class="o" points="512.4,391.2 518.3,393.7 520.8,399.6 518.3,405.5 512.4,408.0 506.5,405.5 504.0,399.6 506.5,393.7"/>
<text class="t" x="512.4" y="402.9">22</text>
<line class="l" x1="562.5" y1="321.4" x2="559.4" y2="335.4"/>
<polygon class="o" points="564.2,305.2 570.1,307.7 572.6,313.6 570.1,319.5 564.2,322.0 558.3,319.5 555.8,313.6 558.3,307.7"/>
<text class="t" x="564.2" y="316.9">52</text>
<line class="l" x1="612.7" y1="322.3" x2="588.0" y2="307.6"/>
<polygon class="o" points="619.6,318.0 625.5,320.5 628.0,326.4 625.5,332.3 619.6,334.8 613.7,332.3 611.2,326.4 613.7,320.5"/>
<text class="t" x="619.6" y="329.7">27</text>
<line class="l" x1="607.4" y1="341.1" x2="622.8" y2="349.6"/>
<polygon class="o" points="600.4,328.8 606.3,331.3 608.8,337.2 606.3,343.1 600.4,345.6 594.5,343.1 592.0,337.2 594.5,331.3"/>
<text class="t" x="600.4" y="340.5">2</text>
<line class="l" x1="644.5" y1="320.8" x2="664.6" y2="335.2"/>
<polygon class="o" points="638.0,307.8 643.9,310.3 646.4,316.2 643.9,322.1 638.0,324.6 632.1,322.1 629.6,316.2 632.1,310.3"/>
<text class="t" x="638.0" y="319.5">6</text>
<line class="l" x1="662.2" y1="312.5" x2="680.4" y2="325.2"/>
<polygon class="o" points="655.6,299.6 661.5,302.1 664.0,308.0 661.5,313.9 655.6,316.4 649.7,313.9 647.2,308.0 649.7,302.1"/>
<text class="t" x="655.6" y="311.3">7</text>
<line class="l" x1="724.7" y1="382.4" x2="704.6" y2="394.0"/>
<polygon class="o" points="731.6,370.0 737.5,372.5 740.0,378.4 737.5,384.3 731.6,386.8 725.7,384.3 723.2,378.4 725.7,372.5"/>
<text class="t" x="731.6" y="381.7">51</text>
<line class="l" x1="565.3" y1="399.0" x2="600.4" y2="412.2"/>
<polygon class="o" points="557.8,387.8 563.7,390.3 566.2,396.2 563.7,402.1 557.8,404.6 551.9,402.1 549.4,396.2 551.9,390.3"/>
<text class="t" x="557.8" y="399.5">33</text>
<line class="l" x1="565.7" y1="415.3" x2="588.6" y2="418.6"/>
<polygon class="o" points="557.8,405.8 563.7,408.3 566.2,414.2 563.7,420.1 557.8,422.6 551.9,420.1 549.4,414.2 551.9,408.3"/>
<text class="t" x="557.8" y="417.5">53</text>
<line class="l" x1="564.3" y1="435.4" x2="578.2" y2="427.2"/>
<polygon class="o" points="557.4,431.0 563.3,433.5 565.8,439.4 563.3,445.3 557.4,447.8 551.5,445.3 549.0,439.4 551.5,433.5"/>
<text class="t" x="557.4" y="442.7">34</text>
<line class="l" x1="564.6" y1="456.1" x2="579.6" y2="448.6"/>
<polygon class="o" points="557.4,451.2 563.3,453.7 565.8,459.6 563.3,465.5 557.4,468.0 551.5,465.5 549.0,459.6 551.5,453.7"/>
<text class="t" x="557.4" y="462.9">28</text>
<line class="l" x1="564.5" y1="476.1" x2="583.6" y2="466.6"/>
<polygon class="o" points="557.4,471.2 563.3,473.7 565.8,479.6 563.3,485.5 557.4,488.0 551.5,485.5 549.0,479.6 551.5,473.7"/>
<text class="t" x="557.4" y="482.9">29</text>
<line class="l" x1="564.5" y1="498.8" x2="582.6" y2="489.6"/>
<polygon class="o" points="557.4,494.0 563.3,496.5 565.8,502.4 563.3,508.3 557.4,510.8 551.5,508.3 549.0,502.4 551.5,496.5"/>
<text class="t" x="557.4" y="505.7">30</text>
<line class="l" x1="564.7" y1="523.5" x2="578.6" y2="517.6"/>
<polygon class="o" points="557.4,518.2 563.3,520.7 565.8,526.6 563.3,532.5 557.4,535.0 551.5,532.5 549.0,526.6 551.5,520.7"/>
<text class="t" x="557.4" y="529.9">31</text>
<line class="l" x1="564.4" y1="544.7" x2="577.8" y2="537.2"/>
<polygon class="o" points="557.4,540.2 563.3,542.7 565.8,548.6 563.3,554.5 557.4,557.0 551.5,554.5 549.0,548.6 551.5,542.7"/>
<text class="t" x="557.4" y="551.9">32</text>
<line class="l" x1="552.4" y1="224.6" x2="525.0" y2="224.0"/>
<line class="l" x1="552.6" y1="227.0" x2="532.0" y2="229.0"/>
</svg>
</body></html>
